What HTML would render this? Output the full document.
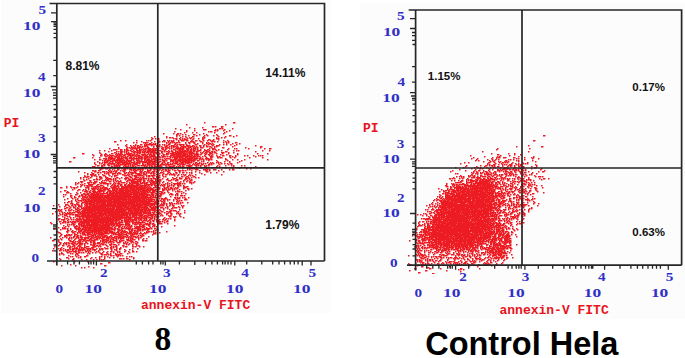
<!DOCTYPE html>
<html><head><meta charset="utf-8"><style>
html,body{margin:0;padding:0;background:#fff;width:685px;height:358px;overflow:hidden}
svg{position:absolute;left:0;top:0;display:block}
.ax{font-family:"Liberation Serif",serif;font-weight:bold;font-size:12.5px;fill:#3030c8}
.lab{font-family:"Liberation Mono",monospace;font-weight:bold;font-size:13px;fill:#e8141c}
.pc{font-family:"Liberation Sans",sans-serif;font-weight:bold;font-size:12px;fill:#111}
.pc2{font-family:"Liberation Sans",sans-serif;font-weight:bold;font-size:11.5px;fill:#111}
.big8{font-family:"Liberation Serif",serif;font-weight:bold;font-size:33.5px;fill:#000}
.bigc{font-family:"Liberation Sans",sans-serif;font-weight:bold;font-size:32.5px;fill:#000}
</style></head><body>
<svg width="685" height="358" viewBox="0 0 685 358">
<rect x="1" y="0" width="329" height="313" fill="#fcfcfc"/>
<rect x="360" y="2" width="325" height="317" fill="#fcfcfc"/>
<filter id="bl" x="0" y="0" width="1" height="1"><feGaussianBlur stdDeviation="0.5"/></filter>
<path d="M204 122.75h1.5M233 122.75h2.5M186 124.75h1.5M225 124.75h1.5M212 126.75h2.5M215 126.75h1.5M221 126.75h2.5M189 127.75h1.5M202 127.75h1.5M221 127.75h1.5M175 128.75h1.5M194 128.75h1.5M219 128.75h2.5M222 128.75h1.5M232 128.75h1.5M180 129.75h1.5M203 129.75h3.5M215 129.75h1.5M217 129.75h1.5M224 129.75h1.5M186 130.75h1.5M194 130.75h1.5M214 130.75h2.5M217 130.75h1.5M223 130.75h1.5M229 130.75h1.5M174 131.75h1.5M186 131.75h1.5M208 131.75h1.5M210 131.75h2.5M226 131.75h1.5M184 132.75h1.5M192 132.75h1.5M196 132.75h1.5M214 132.75h1.5M224 132.75h1.5M163 133.75h1.5M173 133.75h1.5M177 133.75h2.5M180 133.75h1.5M203 133.75h1.5M223 133.75h1.5M176 134.75h2.5M182 134.75h1.5M185 134.75h1.5M193 134.75h2.5M199 134.75h1.5M206 134.75h1.5M216 134.75h1.5M176 135.75h1.5M179 135.75h1.5M188 135.75h1.5M196 135.75h1.5M204 135.75h1.5M207 135.75h1.5M213 135.75h1.5M217 135.75h1.5M229 135.75h2.5M236 135.75h1.5M543 135.75h2.5M154 136.75h1.5M166 136.75h1.5M176 136.75h1.5M182 136.75h1.5M185 136.75h1.5M192 136.75h2.5M203 136.75h1.5M218 136.75h1.5M225 136.75h1.5M233 136.75h1.5M151 137.75h1.5M166 137.75h1.5M169 137.75h2.5M172 137.75h1.5M180 137.75h1.5M186 137.75h1.5M189 137.75h1.5M191 137.75h1.5M202 137.75h1.5M204 137.75h1.5M216 137.75h1.5M221 137.75h1.5M224 137.75h1.5M152 138.75h1.5M155 138.75h1.5M158 138.75h1.5M173 138.75h1.5M175 138.75h2.5M179 138.75h1.5M182 138.75h1.5M184 138.75h1.5M187 138.75h1.5M190 138.75h1.5M193 138.75h1.5M198 138.75h1.5M202 138.75h2.5M216 138.75h3.5M151 139.75h1.5M158 139.75h1.5M176 139.75h1.5M180 139.75h1.5M182 139.75h1.5M184 139.75h3.5M192 139.75h1.5M202 139.75h1.5M208 139.75h2.5M213 139.75h1.5M218 139.75h1.5M120 140.75h1.5M125 140.75h1.5M136 140.75h1.5M146 140.75h1.5M148 140.75h1.5M150 140.75h1.5M157 140.75h2.5M163 140.75h2.5M167 140.75h1.5M169 140.75h1.5M171 140.75h1.5M173 140.75h1.5M178 140.75h1.5M181 140.75h3.5M186 140.75h2.5M191 140.75h1.5M195 140.75h2.5M199 140.75h1.5M203 140.75h1.5M207 140.75h1.5M210 140.75h1.5M212 140.75h2.5M223 140.75h1.5M227 140.75h1.5M533 140.75h2.5M114 141.75h2.5M141 141.75h1.5M154 141.75h1.5M157 141.75h1.5M159 141.75h1.5M162 141.75h1.5M164 141.75h1.5M168 141.75h1.5M171 141.75h3.5M178 141.75h1.5M190 141.75h4.5M200 141.75h2.5M211 141.75h2.5M214 141.75h1.5M217 141.75h1.5M225 141.75h1.5M228 141.75h1.5M133 142.75h1.5M136 142.75h1.5M143 142.75h5.5M151 142.75h1.5M157 142.75h2.5M166 142.75h1.5M168 142.75h1.5M170 142.75h1.5M172 142.75h1.5M174 142.75h1.5M176 142.75h2.5M179 142.75h1.5M185 142.75h1.5M188 142.75h2.5M193 142.75h2.5M202 142.75h1.5M206 142.75h1.5M208 142.75h1.5M223 142.75h1.5M226 142.75h1.5M228 142.75h1.5M235 142.75h2.5M145 143.75h1.5M149 143.75h2.5M153 143.75h1.5M155 143.75h1.5M166 143.75h1.5M169 143.75h1.5M175 143.75h1.5M185 143.75h1.5M189 143.75h1.5M194 143.75h1.5M197 143.75h1.5M202 143.75h1.5M206 143.75h2.5M209 143.75h2.5M212 143.75h1.5M226 143.75h1.5M232 143.75h1.5M239 143.75h1.5M117 144.75h1.5M126 144.75h1.5M135 144.75h1.5M140 144.75h2.5M144 144.75h1.5M146 144.75h10.5M159 144.75h1.5M162 144.75h1.5M164 144.75h1.5M168 144.75h2.5M174 144.75h2.5M177 144.75h1.5M179 144.75h5.5M186 144.75h1.5M195 144.75h2.5M204 144.75h1.5M208 144.75h1.5M211 144.75h1.5M213 144.75h1.5M219 144.75h1.5M223 144.75h1.5M226 144.75h1.5M230 144.75h1.5M236 144.75h1.5M125 145.75h1.5M130 145.75h1.5M133 145.75h1.5M135 145.75h1.5M137 145.75h2.5M144 145.75h3.5M151 145.75h1.5M156 145.75h2.5M159 145.75h1.5M164 145.75h1.5M166 145.75h2.5M171 145.75h3.5M176 145.75h1.5M180 145.75h1.5M183 145.75h1.5M186 145.75h4.5M192 145.75h2.5M199 145.75h2.5M203 145.75h1.5M206 145.75h1.5M212 145.75h1.5M216 145.75h3.5M234 145.75h1.5M255 145.75h1.5M528 145.75h1.5M126 146.75h1.5M131 146.75h1.5M134 146.75h1.5M137 146.75h1.5M139 146.75h2.5M142 146.75h1.5M144 146.75h2.5M147 146.75h1.5M153 146.75h1.5M156 146.75h1.5M158 146.75h2.5M161 146.75h1.5M165 146.75h2.5M169 146.75h1.5M171 146.75h1.5M173 146.75h3.5M177 146.75h1.5M181 146.75h5.5M187 146.75h2.5M190 146.75h3.5M194 146.75h1.5M196 146.75h1.5M200 146.75h1.5M203 146.75h1.5M206 146.75h2.5M209 146.75h2.5M214 146.75h1.5M216 146.75h1.5M232 146.75h1.5M260 146.75h2.5M516 146.75h1.5M541 146.75h2.5M118 147.75h1.5M127 147.75h1.5M129 147.75h1.5M131 147.75h3.5M135 147.75h1.5M137 147.75h3.5M141 147.75h1.5M147 147.75h2.5M153 147.75h1.5M162 147.75h2.5M165 147.75h1.5M167 147.75h2.5M171 147.75h1.5M173 147.75h1.5M176 147.75h3.5M180 147.75h1.5M182 147.75h2.5M185 147.75h1.5M188 147.75h3.5M193 147.75h1.5M195 147.75h1.5M197 147.75h1.5M200 147.75h3.5M211 147.75h1.5M214 147.75h1.5M222 147.75h2.5M245 147.75h1.5M260 147.75h1.5M109 148.75h1.5M118 148.75h1.5M126 148.75h1.5M130 148.75h1.5M132 148.75h6.5M139 148.75h1.5M143 148.75h1.5M145 148.75h6.5M152 148.75h1.5M154 148.75h5.5M161 148.75h2.5M165 148.75h2.5M169 148.75h1.5M171 148.75h1.5M175 148.75h9.5M186 148.75h3.5M191 148.75h1.5M193 148.75h3.5M197 148.75h1.5M209 148.75h1.5M212 148.75h3.5M228 148.75h1.5M234 148.75h1.5M236 148.75h1.5M248 148.75h1.5M264 148.75h1.5M269 148.75h2.5M497 148.75h1.5M529 148.75h1.5M113 149.75h4.5M120 149.75h2.5M124 149.75h1.5M126 149.75h2.5M131 149.75h1.5M136 149.75h1.5M139 149.75h4.5M144 149.75h2.5M148 149.75h6.5M155 149.75h1.5M157 149.75h1.5M162 149.75h2.5M165 149.75h1.5M173 149.75h2.5M177 149.75h1.5M179 149.75h5.5M186 149.75h3.5M190 149.75h2.5M193 149.75h1.5M195 149.75h1.5M197 149.75h1.5M200 149.75h1.5M204 149.75h1.5M207 149.75h2.5M212 149.75h2.5M215 149.75h1.5M218 149.75h1.5M227 149.75h1.5M496 149.75h1.5M99 150.75h1.5M104 150.75h1.5M111 150.75h1.5M120 150.75h2.5M124 150.75h1.5M126 150.75h3.5M130 150.75h1.5M133 150.75h1.5M136 150.75h5.5M143 150.75h1.5M145 150.75h1.5M147 150.75h4.5M152 150.75h9.5M164 150.75h1.5M168 150.75h1.5M171 150.75h1.5M175 150.75h1.5M178 150.75h3.5M182 150.75h1.5M184 150.75h2.5M187 150.75h2.5M190 150.75h2.5M193 150.75h2.5M197 150.75h4.5M204 150.75h3.5M209 150.75h1.5M216 150.75h1.5M221 150.75h1.5M233 150.75h1.5M236 150.75h1.5M238 150.75h1.5M262 150.75h1.5M269 150.75h1.5M108 151.75h1.5M116 151.75h1.5M118 151.75h1.5M120 151.75h3.5M124 151.75h1.5M126 151.75h1.5M131 151.75h2.5M134 151.75h2.5M137 151.75h1.5M139 151.75h2.5M142 151.75h1.5M144 151.75h2.5M147 151.75h8.5M161 151.75h2.5M164 151.75h1.5M166 151.75h2.5M169 151.75h1.5M171 151.75h2.5M175 151.75h3.5M179 151.75h9.5M189 151.75h3.5M193 151.75h2.5M196 151.75h2.5M203 151.75h1.5M206 151.75h3.5M211 151.75h2.5M214 151.75h1.5M225 151.75h2.5M255 151.75h1.5M482 151.75h1.5M528 151.75h1.5M99 152.75h1.5M114 152.75h2.5M120 152.75h2.5M124 152.75h1.5M126 152.75h1.5M128 152.75h1.5M133 152.75h2.5M136 152.75h5.5M142 152.75h3.5M146 152.75h3.5M150 152.75h7.5M158 152.75h1.5M161 152.75h1.5M168 152.75h1.5M172 152.75h4.5M177 152.75h8.5M186 152.75h1.5M188 152.75h5.5M196 152.75h1.5M200 152.75h1.5M202 152.75h1.5M205 152.75h2.5M209 152.75h2.5M212 152.75h1.5M214 152.75h2.5M221 152.75h3.5M228 152.75h1.5M233 152.75h1.5M82 153.75h2.5M100 153.75h1.5M105 153.75h1.5M111 153.75h2.5M116 153.75h1.5M118 153.75h1.5M120 153.75h2.5M126 153.75h6.5M134 153.75h1.5M137 153.75h1.5M139 153.75h1.5M144 153.75h1.5M148 153.75h1.5M150 153.75h1.5M153 153.75h2.5M156 153.75h2.5M159 153.75h1.5M162 153.75h1.5M166 153.75h3.5M170 153.75h4.5M175 153.75h7.5M183 153.75h3.5M187 153.75h1.5M189 153.75h6.5M196 153.75h2.5M201 153.75h1.5M204 153.75h1.5M206 153.75h1.5M209 153.75h3.5M216 153.75h1.5M222 153.75h1.5M228 153.75h1.5M237 153.75h1.5M257 153.75h1.5M267 153.75h1.5M491 153.75h1.5M508 153.75h1.5M514 153.75h1.5M92 154.75h1.5M101 154.75h1.5M104 154.75h3.5M109 154.75h1.5M115 154.75h1.5M117 154.75h6.5M124 154.75h2.5M127 154.75h4.5M132 154.75h3.5M136 154.75h2.5M141 154.75h5.5M147 154.75h1.5M149 154.75h3.5M153 154.75h2.5M157 154.75h2.5M163 154.75h2.5M166 154.75h2.5M171 154.75h17.5M189 154.75h3.5M194 154.75h5.5M200 154.75h1.5M205 154.75h1.5M208 154.75h2.5M212 154.75h1.5M220 154.75h1.5M226 154.75h1.5M237 154.75h1.5M497 154.75h2.5M514 154.75h1.5M520 154.75h1.5M93 155.75h1.5M100 155.75h2.5M104 155.75h1.5M107 155.75h2.5M110 155.75h4.5M116 155.75h2.5M119 155.75h2.5M123 155.75h2.5M128 155.75h6.5M135 155.75h1.5M137 155.75h3.5M142 155.75h2.5M145 155.75h2.5M149 155.75h1.5M151 155.75h4.5M158 155.75h1.5M161 155.75h1.5M163 155.75h1.5M170 155.75h5.5M176 155.75h5.5M182 155.75h4.5M187 155.75h3.5M191 155.75h2.5M194 155.75h1.5M196 155.75h2.5M204 155.75h1.5M209 155.75h1.5M211 155.75h1.5M216 155.75h1.5M222 155.75h2.5M229 155.75h2.5M235 155.75h1.5M244 155.75h1.5M247 155.75h1.5M253 155.75h1.5M258 155.75h1.5M260 155.75h1.5M262 155.75h1.5M470 155.75h1.5M500 155.75h1.5M509 155.75h1.5M105 156.75h2.5M109 156.75h1.5M111 156.75h1.5M114 156.75h3.5M118 156.75h2.5M121 156.75h2.5M125 156.75h1.5M127 156.75h1.5M130 156.75h2.5M134 156.75h1.5M136 156.75h1.5M138 156.75h4.5M144 156.75h5.5M150 156.75h6.5M158 156.75h2.5M162 156.75h4.5M167 156.75h1.5M169 156.75h2.5M173 156.75h19.5M193 156.75h3.5M197 156.75h3.5M202 156.75h1.5M205 156.75h1.5M210 156.75h3.5M217 156.75h1.5M219 156.75h1.5M229 156.75h1.5M232 156.75h1.5M235 156.75h1.5M255 156.75h1.5M484 156.75h1.5M497 156.75h1.5M499 156.75h1.5M518 156.75h1.5M533 156.75h1.5M73 157.75h2.5M92 157.75h1.5M99 157.75h1.5M108 157.75h5.5M115 157.75h1.5M117 157.75h3.5M121 157.75h1.5M123 157.75h4.5M129 157.75h3.5M133 157.75h1.5M136 157.75h1.5M138 157.75h2.5M141 157.75h2.5M144 157.75h4.5M149 157.75h2.5M153 157.75h1.5M155 157.75h2.5M159 157.75h2.5M162 157.75h1.5M170 157.75h1.5M172 157.75h1.5M174 157.75h4.5M179 157.75h4.5M185 157.75h3.5M189 157.75h6.5M196 157.75h1.5M200 157.75h1.5M206 157.75h1.5M210 157.75h2.5M217 157.75h2.5M220 157.75h2.5M230 157.75h1.5M234 157.75h1.5M249 157.75h1.5M262 157.75h1.5M473 157.75h1.5M492 157.75h1.5M496 157.75h1.5M498 157.75h2.5M503 157.75h3.5M513 157.75h2.5M524 157.75h1.5M531 157.75h1.5M533 157.75h1.5M103 158.75h4.5M108 158.75h7.5M117 158.75h6.5M125 158.75h3.5M129 158.75h14.5M144 158.75h3.5M148 158.75h1.5M151 158.75h1.5M153 158.75h5.5M164 158.75h1.5M166 158.75h4.5M174 158.75h4.5M179 158.75h2.5M182 158.75h4.5M187 158.75h6.5M194 158.75h4.5M199 158.75h2.5M202 158.75h1.5M205 158.75h4.5M210 158.75h1.5M225 158.75h1.5M471 158.75h1.5M477 158.75h1.5M491 158.75h1.5M496 158.75h1.5M516 158.75h1.5M518 158.75h1.5M532 158.75h1.5M538 158.75h1.5M94 159.75h1.5M99 159.75h2.5M105 159.75h2.5M108 159.75h1.5M110 159.75h2.5M113 159.75h2.5M116 159.75h6.5M123 159.75h1.5M126 159.75h2.5M131 159.75h1.5M133 159.75h1.5M136 159.75h1.5M138 159.75h1.5M141 159.75h1.5M144 159.75h2.5M147 159.75h3.5M151 159.75h5.5M157 159.75h4.5M162 159.75h1.5M165 159.75h1.5M170 159.75h2.5M173 159.75h4.5M178 159.75h14.5M193 159.75h3.5M199 159.75h1.5M201 159.75h1.5M203 159.75h1.5M206 159.75h1.5M208 159.75h2.5M211 159.75h1.5M225 159.75h2.5M232 159.75h1.5M237 159.75h1.5M244 159.75h1.5M267 159.75h1.5M476 159.75h1.5M487 159.75h1.5M492 159.75h1.5M495 159.75h1.5M498 159.75h1.5M508 159.75h1.5M510 159.75h1.5M513 159.75h1.5M524 159.75h1.5M102 160.75h1.5M104 160.75h2.5M107 160.75h3.5M112 160.75h13.5M126 160.75h6.5M133 160.75h1.5M136 160.75h4.5M141 160.75h1.5M144 160.75h1.5M146 160.75h6.5M154 160.75h3.5M162 160.75h3.5M166 160.75h1.5M170 160.75h4.5M175 160.75h1.5M177 160.75h18.5M197 160.75h2.5M203 160.75h1.5M208 160.75h1.5M216 160.75h1.5M227 160.75h1.5M241 160.75h1.5M475 160.75h1.5M478 160.75h1.5M489 160.75h1.5M492 160.75h1.5M494 160.75h1.5M505 160.75h2.5M516 160.75h1.5M518 160.75h1.5M532 160.75h1.5M69 161.75h2.5M97 161.75h1.5M104 161.75h1.5M106 161.75h2.5M110 161.75h3.5M115 161.75h1.5M117 161.75h1.5M119 161.75h4.5M124 161.75h3.5M128 161.75h3.5M134 161.75h1.5M137 161.75h1.5M139 161.75h8.5M148 161.75h8.5M157 161.75h1.5M159 161.75h2.5M163 161.75h2.5M170 161.75h1.5M172 161.75h2.5M175 161.75h3.5M179 161.75h2.5M182 161.75h8.5M191 161.75h1.5M193 161.75h1.5M201 161.75h1.5M203 161.75h1.5M217 161.75h1.5M224 161.75h1.5M229 161.75h1.5M239 161.75h1.5M483 161.75h1.5M490 161.75h1.5M493 161.75h1.5M498 161.75h1.5M500 161.75h1.5M504 161.75h1.5M506 161.75h1.5M508 161.75h1.5M518 161.75h1.5M535 161.75h1.5M94 162.75h1.5M99 162.75h1.5M102 162.75h1.5M104 162.75h4.5M109 162.75h1.5M112 162.75h1.5M115 162.75h13.5M129 162.75h1.5M131 162.75h4.5M136 162.75h4.5M142 162.75h9.5M152 162.75h5.5M158 162.75h1.5M162 162.75h1.5M164 162.75h1.5M167 162.75h2.5M173 162.75h1.5M175 162.75h3.5M180 162.75h4.5M185 162.75h7.5M195 162.75h2.5M199 162.75h1.5M207 162.75h1.5M210 162.75h1.5M212 162.75h1.5M216 162.75h1.5M218 162.75h1.5M220 162.75h1.5M229 162.75h1.5M237 162.75h1.5M250 162.75h1.5M464 162.75h1.5M468 162.75h1.5M488 162.75h2.5M494 162.75h1.5M499 162.75h1.5M502 162.75h2.5M505 162.75h1.5M507 162.75h1.5M512 162.75h1.5M522 162.75h1.5M527 162.75h1.5M94 163.75h1.5M99 163.75h1.5M101 163.75h1.5M104 163.75h1.5M108 163.75h7.5M117 163.75h3.5M122 163.75h3.5M126 163.75h5.5M133 163.75h5.5M139 163.75h1.5M142 163.75h1.5M147 163.75h3.5M151 163.75h4.5M158 163.75h1.5M161 163.75h2.5M165 163.75h1.5M167 163.75h1.5M170 163.75h1.5M172 163.75h1.5M174 163.75h4.5M179 163.75h1.5M181 163.75h3.5M185 163.75h1.5M187 163.75h2.5M193 163.75h1.5M195 163.75h1.5M197 163.75h3.5M201 163.75h1.5M203 163.75h1.5M205 163.75h1.5M209 163.75h1.5M211 163.75h1.5M213 163.75h1.5M218 163.75h1.5M221 163.75h1.5M224 163.75h1.5M227 163.75h1.5M230 163.75h2.5M460 163.75h1.5M487 163.75h1.5M495 163.75h1.5M501 163.75h1.5M511 163.75h1.5M515 163.75h1.5M518 163.75h1.5M523 163.75h1.5M525 163.75h1.5M527 163.75h1.5M95 164.75h1.5M103 164.75h2.5M107 164.75h2.5M111 164.75h1.5M113 164.75h2.5M116 164.75h1.5M118 164.75h1.5M120 164.75h9.5M130 164.75h1.5M132 164.75h1.5M134 164.75h3.5M142 164.75h2.5M145 164.75h1.5M147 164.75h4.5M152 164.75h5.5M158 164.75h1.5M160 164.75h5.5M166 164.75h7.5M177 164.75h2.5M180 164.75h1.5M182 164.75h3.5M189 164.75h1.5M192 164.75h1.5M194 164.75h1.5M196 164.75h2.5M201 164.75h2.5M208 164.75h2.5M211 164.75h1.5M219 164.75h1.5M228 164.75h1.5M231 164.75h1.5M487 164.75h1.5M489 164.75h1.5M493 164.75h2.5M498 164.75h1.5M502 164.75h1.5M504 164.75h1.5M506 164.75h1.5M509 164.75h3.5M516 164.75h1.5M518 164.75h1.5M520 164.75h1.5M535 164.75h1.5M97 165.75h2.5M101 165.75h2.5M104 165.75h1.5M108 165.75h2.5M114 165.75h6.5M124 165.75h2.5M128 165.75h1.5M130 165.75h1.5M132 165.75h2.5M137 165.75h3.5M141 165.75h5.5M147 165.75h1.5M149 165.75h1.5M151 165.75h1.5M154 165.75h1.5M157 165.75h4.5M165 165.75h1.5M168 165.75h1.5M173 165.75h2.5M179 165.75h1.5M182 165.75h1.5M186 165.75h6.5M195 165.75h2.5M198 165.75h1.5M200 165.75h1.5M204 165.75h1.5M206 165.75h1.5M208 165.75h1.5M217 165.75h1.5M225 165.75h1.5M231 165.75h1.5M233 165.75h1.5M241 165.75h1.5M244 165.75h1.5M466 165.75h1.5M480 165.75h1.5M485 165.75h2.5M489 165.75h1.5M491 165.75h2.5M494 165.75h1.5M502 165.75h1.5M508 165.75h1.5M510 165.75h2.5M514 165.75h1.5M518 165.75h1.5M520 165.75h1.5M536 165.75h1.5M92 166.75h3.5M101 166.75h2.5M111 166.75h2.5M114 166.75h1.5M116 166.75h2.5M119 166.75h1.5M123 166.75h1.5M125 166.75h4.5M130 166.75h1.5M132 166.75h2.5M135 166.75h1.5M144 166.75h1.5M146 166.75h1.5M149 166.75h1.5M151 166.75h2.5M154 166.75h8.5M166 166.75h1.5M169 166.75h5.5M176 166.75h1.5M178 166.75h1.5M180 166.75h1.5M182 166.75h2.5M188 166.75h3.5M196 166.75h1.5M200 166.75h1.5M204 166.75h2.5M216 166.75h1.5M219 166.75h1.5M233 166.75h1.5M255 166.75h1.5M465 166.75h1.5M476 166.75h1.5M484 166.75h1.5M492 166.75h1.5M494 166.75h1.5M497 166.75h2.5M502 166.75h1.5M507 166.75h1.5M510 166.75h1.5M514 166.75h1.5M518 166.75h2.5M523 166.75h1.5M531 166.75h1.5M536 166.75h1.5M95 167.75h1.5M98 167.75h1.5M100 167.75h2.5M104 167.75h1.5M106 167.75h2.5M109 167.75h3.5M113 167.75h1.5M115 167.75h1.5M117 167.75h1.5M123 167.75h1.5M126 167.75h1.5M129 167.75h4.5M134 167.75h3.5M140 167.75h2.5M145 167.75h3.5M149 167.75h3.5M155 167.75h1.5M157 167.75h1.5M159 167.75h3.5M167 167.75h1.5M171 167.75h1.5M175 167.75h2.5M191 167.75h1.5M193 167.75h1.5M197 167.75h1.5M200 167.75h3.5M205 167.75h2.5M208 167.75h1.5M212 167.75h1.5M225 167.75h1.5M238 167.75h2.5M455 167.75h1.5M463 167.75h1.5M474 167.75h1.5M477 167.75h1.5M480 167.75h1.5M486 167.75h1.5M490 167.75h1.5M493 167.75h1.5M495 167.75h1.5M500 167.75h1.5M504 167.75h1.5M506 167.75h1.5M514 167.75h2.5M522 167.75h2.5M534 167.75h2.5M99 168.75h1.5M101 168.75h2.5M105 168.75h3.5M114 168.75h1.5M117 168.75h2.5M121 168.75h1.5M124 168.75h2.5M127 168.75h1.5M130 168.75h1.5M133 168.75h2.5M138 168.75h1.5M140 168.75h4.5M145 168.75h1.5M149 168.75h3.5M154 168.75h2.5M157 168.75h1.5M160 168.75h1.5M168 168.75h1.5M170 168.75h1.5M174 168.75h1.5M182 168.75h1.5M187 168.75h1.5M189 168.75h6.5M196 168.75h1.5M206 168.75h1.5M232 168.75h1.5M246 168.75h1.5M250 168.75h1.5M471 168.75h1.5M479 168.75h2.5M482 168.75h1.5M488 168.75h1.5M503 168.75h3.5M507 168.75h2.5M513 168.75h1.5M518 168.75h1.5M520 168.75h1.5M523 168.75h1.5M531 168.75h1.5M541 168.75h1.5M100 169.75h1.5M109 169.75h1.5M112 169.75h1.5M117 169.75h2.5M123 169.75h3.5M129 169.75h3.5M133 169.75h3.5M137 169.75h4.5M142 169.75h1.5M147 169.75h1.5M150 169.75h1.5M153 169.75h2.5M156 169.75h1.5M159 169.75h1.5M162 169.75h2.5M165 169.75h2.5M168 169.75h1.5M172 169.75h1.5M177 169.75h1.5M187 169.75h1.5M189 169.75h1.5M195 169.75h3.5M203 169.75h3.5M207 169.75h1.5M209 169.75h1.5M213 169.75h3.5M221 169.75h1.5M229 169.75h1.5M232 169.75h2.5M459 169.75h1.5M475 169.75h1.5M489 169.75h1.5M492 169.75h1.5M497 169.75h2.5M500 169.75h1.5M502 169.75h3.5M506 169.75h1.5M509 169.75h2.5M512 169.75h2.5M515 169.75h2.5M518 169.75h1.5M521 169.75h1.5M525 169.75h1.5M540 169.75h1.5M92 170.75h2.5M95 170.75h1.5M98 170.75h2.5M108 170.75h1.5M110 170.75h1.5M114 170.75h1.5M116 170.75h1.5M120 170.75h1.5M122 170.75h1.5M124 170.75h1.5M131 170.75h1.5M133 170.75h1.5M135 170.75h2.5M140 170.75h1.5M142 170.75h1.5M147 170.75h4.5M154 170.75h1.5M157 170.75h2.5M161 170.75h1.5M165 170.75h2.5M168 170.75h2.5M174 170.75h2.5M178 170.75h3.5M182 170.75h2.5M185 170.75h1.5M191 170.75h1.5M199 170.75h1.5M205 170.75h2.5M209 170.75h1.5M218 170.75h1.5M452 170.75h1.5M465 170.75h1.5M474 170.75h1.5M478 170.75h2.5M483 170.75h1.5M488 170.75h1.5M497 170.75h3.5M501 170.75h1.5M505 170.75h1.5M514 170.75h3.5M518 170.75h1.5M522 170.75h2.5M525 170.75h1.5M544 170.75h1.5M78 171.75h1.5M94 171.75h2.5M102 171.75h3.5M106 171.75h1.5M109 171.75h1.5M111 171.75h1.5M113 171.75h1.5M115 171.75h2.5M123 171.75h2.5M129 171.75h1.5M134 171.75h2.5M139 171.75h3.5M144 171.75h2.5M147 171.75h2.5M152 171.75h3.5M156 171.75h1.5M163 171.75h1.5M167 171.75h2.5M179 171.75h1.5M195 171.75h1.5M206 171.75h2.5M223 171.75h1.5M450 171.75h1.5M473 171.75h1.5M476 171.75h1.5M483 171.75h1.5M485 171.75h2.5M489 171.75h1.5M494 171.75h2.5M499 171.75h1.5M503 171.75h1.5M505 171.75h3.5M510 171.75h2.5M514 171.75h1.5M519 171.75h2.5M528 171.75h1.5M538 171.75h1.5M542 171.75h2.5M84 172.75h1.5M91 172.75h1.5M97 172.75h2.5M100 172.75h1.5M104 172.75h1.5M107 172.75h2.5M110 172.75h2.5M115 172.75h1.5M118 172.75h2.5M124 172.75h1.5M126 172.75h1.5M128 172.75h1.5M130 172.75h6.5M140 172.75h2.5M143 172.75h1.5M146 172.75h1.5M148 172.75h2.5M151 172.75h1.5M153 172.75h1.5M156 172.75h2.5M160 172.75h3.5M168 172.75h2.5M175 172.75h2.5M179 172.75h1.5M182 172.75h2.5M186 172.75h1.5M189 172.75h1.5M191 172.75h1.5M199 172.75h1.5M210 172.75h1.5M216 172.75h1.5M471 172.75h1.5M473 172.75h1.5M476 172.75h2.5M480 172.75h1.5M482 172.75h1.5M486 172.75h2.5M490 172.75h1.5M493 172.75h1.5M495 172.75h1.5M505 172.75h1.5M508 172.75h2.5M511 172.75h1.5M515 172.75h1.5M520 172.75h1.5M522 172.75h1.5M524 172.75h2.5M532 172.75h1.5M87 173.75h1.5M92 173.75h2.5M104 173.75h1.5M106 173.75h1.5M108 173.75h1.5M112 173.75h4.5M117 173.75h1.5M119 173.75h2.5M124 173.75h2.5M128 173.75h1.5M131 173.75h2.5M135 173.75h5.5M141 173.75h1.5M143 173.75h2.5M146 173.75h1.5M150 173.75h2.5M153 173.75h2.5M159 173.75h1.5M163 173.75h1.5M167 173.75h1.5M170 173.75h1.5M173 173.75h1.5M176 173.75h1.5M191 173.75h1.5M201 173.75h1.5M455 173.75h1.5M457 173.75h1.5M472 173.75h1.5M475 173.75h1.5M477 173.75h1.5M480 173.75h2.5M484 173.75h1.5M486 173.75h3.5M491 173.75h1.5M493 173.75h1.5M495 173.75h1.5M504 173.75h1.5M506 173.75h1.5M509 173.75h2.5M512 173.75h1.5M520 173.75h1.5M522 173.75h1.5M531 173.75h1.5M536 173.75h1.5M87 174.75h1.5M90 174.75h4.5M95 174.75h1.5M98 174.75h1.5M102 174.75h1.5M108 174.75h1.5M112 174.75h1.5M117 174.75h1.5M122 174.75h2.5M127 174.75h1.5M129 174.75h1.5M131 174.75h1.5M137 174.75h4.5M143 174.75h3.5M153 174.75h1.5M156 174.75h2.5M162 174.75h1.5M165 174.75h2.5M169 174.75h1.5M171 174.75h4.5M178 174.75h1.5M181 174.75h1.5M183 174.75h1.5M185 174.75h1.5M189 174.75h1.5M195 174.75h1.5M204 174.75h1.5M221 174.75h1.5M471 174.75h1.5M477 174.75h1.5M484 174.75h2.5M487 174.75h4.5M494 174.75h3.5M499 174.75h1.5M501 174.75h2.5M505 174.75h2.5M509 174.75h1.5M511 174.75h1.5M513 174.75h1.5M515 174.75h2.5M523 174.75h1.5M525 174.75h1.5M529 174.75h1.5M531 174.75h1.5M84 175.75h1.5M91 175.75h2.5M94 175.75h2.5M103 175.75h2.5M109 175.75h1.5M114 175.75h3.5M124 175.75h3.5M128 175.75h1.5M132 175.75h1.5M134 175.75h3.5M138 175.75h5.5M146 175.75h1.5M148 175.75h2.5M151 175.75h4.5M157 175.75h1.5M159 175.75h1.5M162 175.75h1.5M174 175.75h1.5M177 175.75h1.5M184 175.75h1.5M188 175.75h1.5M190 175.75h1.5M192 175.75h1.5M460 175.75h1.5M468 175.75h1.5M470 175.75h1.5M472 175.75h1.5M474 175.75h1.5M480 175.75h2.5M487 175.75h1.5M491 175.75h1.5M493 175.75h1.5M497 175.75h1.5M499 175.75h1.5M501 175.75h1.5M506 175.75h1.5M508 175.75h1.5M510 175.75h1.5M513 175.75h1.5M522 175.75h1.5M526 175.75h1.5M534 175.75h1.5M84 176.75h2.5M87 176.75h2.5M91 176.75h1.5M96 176.75h1.5M99 176.75h2.5M105 176.75h1.5M111 176.75h1.5M114 176.75h1.5M129 176.75h2.5M134 176.75h3.5M143 176.75h1.5M146 176.75h1.5M148 176.75h2.5M152 176.75h1.5M156 176.75h3.5M163 176.75h1.5M165 176.75h1.5M181 176.75h2.5M186 176.75h2.5M193 176.75h2.5M456 176.75h1.5M459 176.75h1.5M461 176.75h1.5M463 176.75h1.5M468 176.75h2.5M473 176.75h2.5M477 176.75h1.5M480 176.75h1.5M482 176.75h4.5M488 176.75h2.5M492 176.75h1.5M496 176.75h1.5M500 176.75h1.5M505 176.75h1.5M515 176.75h1.5M518 176.75h1.5M524 176.75h1.5M535 176.75h1.5M538 176.75h3.5M542 176.75h1.5M80 177.75h1.5M83 177.75h1.5M86 177.75h1.5M90 177.75h1.5M99 177.75h3.5M105 177.75h3.5M116 177.75h2.5M121 177.75h1.5M125 177.75h3.5M130 177.75h2.5M135 177.75h4.5M140 177.75h1.5M142 177.75h2.5M153 177.75h1.5M156 177.75h1.5M158 177.75h2.5M172 177.75h1.5M176 177.75h1.5M179 177.75h1.5M185 177.75h1.5M188 177.75h1.5M191 177.75h1.5M195 177.75h1.5M198 177.75h1.5M453 177.75h1.5M461 177.75h1.5M463 177.75h1.5M471 177.75h4.5M476 177.75h4.5M487 177.75h1.5M490 177.75h1.5M494 177.75h2.5M501 177.75h2.5M504 177.75h1.5M517 177.75h3.5M528 177.75h1.5M80 178.75h1.5M88 178.75h1.5M96 178.75h1.5M100 178.75h2.5M106 178.75h5.5M113 178.75h1.5M115 178.75h1.5M119 178.75h1.5M124 178.75h3.5M128 178.75h1.5M132 178.75h1.5M134 178.75h2.5M139 178.75h1.5M141 178.75h1.5M143 178.75h4.5M148 178.75h1.5M150 178.75h2.5M153 178.75h3.5M157 178.75h1.5M162 178.75h1.5M167 178.75h1.5M173 178.75h3.5M179 178.75h3.5M185 178.75h3.5M189 178.75h1.5M449 178.75h2.5M452 178.75h1.5M454 178.75h1.5M459 178.75h1.5M462 178.75h1.5M467 178.75h1.5M477 178.75h4.5M483 178.75h2.5M487 178.75h2.5M490 178.75h3.5M495 178.75h1.5M497 178.75h1.5M499 178.75h1.5M501 178.75h1.5M503 178.75h1.5M505 178.75h1.5M507 178.75h1.5M509 178.75h1.5M512 178.75h1.5M514 178.75h1.5M517 178.75h1.5M520 178.75h1.5M522 178.75h2.5M528 178.75h1.5M539 178.75h1.5M543 178.75h2.5M548 178.75h1.5M83 179.75h1.5M86 179.75h1.5M93 179.75h2.5M96 179.75h2.5M99 179.75h1.5M105 179.75h1.5M107 179.75h2.5M110 179.75h2.5M113 179.75h1.5M115 179.75h1.5M125 179.75h1.5M128 179.75h3.5M132 179.75h10.5M143 179.75h1.5M148 179.75h1.5M151 179.75h1.5M155 179.75h3.5M159 179.75h2.5M166 179.75h2.5M171 179.75h1.5M173 179.75h1.5M176 179.75h2.5M184 179.75h2.5M189 179.75h1.5M191 179.75h1.5M466 179.75h1.5M468 179.75h1.5M470 179.75h2.5M475 179.75h3.5M480 179.75h7.5M488 179.75h7.5M496 179.75h1.5M501 179.75h1.5M503 179.75h1.5M507 179.75h2.5M514 179.75h1.5M518 179.75h1.5M521 179.75h2.5M526 179.75h1.5M528 179.75h3.5M541 179.75h1.5M84 180.75h1.5M89 180.75h2.5M102 180.75h1.5M104 180.75h1.5M106 180.75h1.5M108 180.75h1.5M113 180.75h1.5M115 180.75h1.5M117 180.75h1.5M120 180.75h1.5M127 180.75h1.5M129 180.75h5.5M137 180.75h1.5M139 180.75h2.5M143 180.75h2.5M147 180.75h2.5M150 180.75h3.5M155 180.75h1.5M158 180.75h3.5M168 180.75h3.5M175 180.75h3.5M183 180.75h1.5M187 180.75h1.5M190 180.75h2.5M451 180.75h1.5M454 180.75h1.5M458 180.75h1.5M461 180.75h2.5M466 180.75h1.5M468 180.75h1.5M470 180.75h5.5M476 180.75h2.5M479 180.75h2.5M482 180.75h2.5M485 180.75h5.5M494 180.75h1.5M500 180.75h1.5M507 180.75h2.5M512 180.75h1.5M520 180.75h1.5M523 180.75h2.5M526 180.75h1.5M530 180.75h1.5M533 180.75h1.5M80 181.75h3.5M90 181.75h1.5M94 181.75h3.5M101 181.75h1.5M109 181.75h2.5M113 181.75h1.5M116 181.75h1.5M118 181.75h3.5M126 181.75h2.5M131 181.75h10.5M143 181.75h2.5M149 181.75h1.5M151 181.75h7.5M159 181.75h1.5M163 181.75h1.5M180 181.75h1.5M183 181.75h1.5M186 181.75h1.5M189 181.75h1.5M194 181.75h1.5M460 181.75h2.5M466 181.75h1.5M470 181.75h4.5M475 181.75h2.5M479 181.75h10.5M490 181.75h1.5M492 181.75h2.5M497 181.75h2.5M502 181.75h1.5M510 181.75h1.5M513 181.75h3.5M517 181.75h1.5M519 181.75h1.5M522 181.75h1.5M524 181.75h2.5M75 182.75h1.5M78 182.75h1.5M81 182.75h1.5M87 182.75h3.5M91 182.75h1.5M93 182.75h3.5M99 182.75h1.5M101 182.75h5.5M114 182.75h1.5M118 182.75h1.5M121 182.75h4.5M129 182.75h1.5M131 182.75h7.5M140 182.75h1.5M142 182.75h3.5M146 182.75h2.5M150 182.75h1.5M152 182.75h3.5M156 182.75h2.5M159 182.75h1.5M162 182.75h1.5M167 182.75h1.5M171 182.75h1.5M177 182.75h1.5M179 182.75h1.5M189 182.75h3.5M193 182.75h1.5M455 182.75h6.5M466 182.75h6.5M475 182.75h13.5M489 182.75h1.5M491 182.75h2.5M495 182.75h2.5M498 182.75h2.5M502 182.75h1.5M504 182.75h1.5M512 182.75h1.5M518 182.75h1.5M526 182.75h1.5M528 182.75h1.5M531 182.75h1.5M534 182.75h1.5M75 183.75h1.5M77 183.75h1.5M84 183.75h1.5M88 183.75h1.5M93 183.75h2.5M100 183.75h2.5M103 183.75h6.5M110 183.75h1.5M113 183.75h1.5M115 183.75h1.5M117 183.75h3.5M126 183.75h1.5M129 183.75h2.5M132 183.75h7.5M140 183.75h3.5M144 183.75h3.5M150 183.75h2.5M153 183.75h4.5M159 183.75h1.5M165 183.75h1.5M167 183.75h1.5M169 183.75h1.5M173 183.75h8.5M182 183.75h1.5M184 183.75h1.5M191 183.75h1.5M446 183.75h1.5M451 183.75h1.5M453 183.75h1.5M462 183.75h2.5M466 183.75h1.5M471 183.75h1.5M473 183.75h17.5M491 183.75h2.5M495 183.75h2.5M499 183.75h1.5M502 183.75h1.5M504 183.75h1.5M506 183.75h1.5M510 183.75h2.5M514 183.75h1.5M522 183.75h3.5M529 183.75h1.5M75 184.75h1.5M80 184.75h1.5M82 184.75h1.5M88 184.75h5.5M97 184.75h2.5M107 184.75h1.5M112 184.75h1.5M114 184.75h1.5M118 184.75h1.5M120 184.75h2.5M124 184.75h2.5M128 184.75h2.5M131 184.75h2.5M136 184.75h4.5M144 184.75h1.5M146 184.75h7.5M154 184.75h1.5M157 184.75h2.5M161 184.75h1.5M163 184.75h2.5M167 184.75h1.5M171 184.75h1.5M174 184.75h1.5M177 184.75h3.5M446 184.75h1.5M452 184.75h3.5M456 184.75h2.5M459 184.75h7.5M467 184.75h1.5M470 184.75h2.5M473 184.75h2.5M477 184.75h15.5M493 184.75h1.5M495 184.75h1.5M497 184.75h1.5M500 184.75h1.5M503 184.75h1.5M508 184.75h1.5M512 184.75h1.5M517 184.75h1.5M521 184.75h2.5M524 184.75h2.5M528 184.75h1.5M530 184.75h1.5M532 184.75h1.5M534 184.75h1.5M81 185.75h1.5M84 185.75h1.5M86 185.75h2.5M89 185.75h3.5M96 185.75h1.5M100 185.75h3.5M107 185.75h1.5M111 185.75h2.5M114 185.75h2.5M117 185.75h1.5M120 185.75h2.5M124 185.75h2.5M127 185.75h12.5M140 185.75h7.5M148 185.75h1.5M151 185.75h1.5M154 185.75h3.5M158 185.75h1.5M160 185.75h1.5M162 185.75h1.5M164 185.75h1.5M167 185.75h1.5M169 185.75h1.5M171 185.75h1.5M173 185.75h1.5M177 185.75h2.5M180 185.75h1.5M183 185.75h1.5M445 185.75h2.5M452 185.75h1.5M454 185.75h1.5M456 185.75h1.5M458 185.75h1.5M464 185.75h17.5M482 185.75h13.5M496 185.75h1.5M503 185.75h3.5M508 185.75h1.5M510 185.75h1.5M512 185.75h1.5M521 185.75h2.5M528 185.75h3.5M536 185.75h1.5M541 185.75h1.5M66 186.75h1.5M70 186.75h1.5M77 186.75h1.5M80 186.75h1.5M87 186.75h2.5M91 186.75h2.5M94 186.75h6.5M103 186.75h1.5M110 186.75h1.5M113 186.75h6.5M121 186.75h3.5M125 186.75h13.5M139 186.75h4.5M144 186.75h2.5M147 186.75h1.5M149 186.75h1.5M155 186.75h1.5M163 186.75h1.5M167 186.75h2.5M173 186.75h1.5M178 186.75h1.5M183 186.75h2.5M186 186.75h2.5M446 186.75h2.5M450 186.75h1.5M453 186.75h1.5M456 186.75h5.5M462 186.75h1.5M464 186.75h3.5M468 186.75h11.5M480 186.75h13.5M494 186.75h4.5M500 186.75h3.5M506 186.75h2.5M510 186.75h3.5M515 186.75h1.5M520 186.75h1.5M523 186.75h1.5M527 186.75h1.5M531 186.75h1.5M60 187.75h2.5M66 187.75h1.5M71 187.75h1.5M73 187.75h2.5M76 187.75h1.5M85 187.75h4.5M93 187.75h1.5M95 187.75h1.5M97 187.75h1.5M100 187.75h1.5M102 187.75h5.5M111 187.75h5.5M118 187.75h1.5M121 187.75h26.5M148 187.75h1.5M150 187.75h1.5M153 187.75h7.5M164 187.75h1.5M166 187.75h2.5M170 187.75h2.5M175 187.75h1.5M177 187.75h1.5M183 187.75h3.5M450 187.75h2.5M454 187.75h10.5M465 187.75h2.5M468 187.75h1.5M470 187.75h1.5M472 187.75h19.5M492 187.75h2.5M495 187.75h2.5M498 187.75h2.5M505 187.75h1.5M512 187.75h1.5M514 187.75h1.5M516 187.75h1.5M520 187.75h1.5M528 187.75h1.5M534 187.75h2.5M542 187.75h1.5M74 188.75h1.5M88 188.75h1.5M91 188.75h6.5M98 188.75h1.5M100 188.75h3.5M104 188.75h4.5M109 188.75h1.5M112 188.75h6.5M119 188.75h9.5M129 188.75h6.5M136 188.75h10.5M147 188.75h6.5M158 188.75h2.5M162 188.75h1.5M164 188.75h2.5M168 188.75h1.5M170 188.75h3.5M174 188.75h1.5M176 188.75h2.5M183 188.75h1.5M187 188.75h2.5M191 188.75h1.5M438 188.75h1.5M447 188.75h1.5M450 188.75h1.5M454 188.75h1.5M456 188.75h13.5M470 188.75h23.5M495 188.75h1.5M497 188.75h4.5M502 188.75h1.5M505 188.75h1.5M509 188.75h3.5M515 188.75h1.5M519 188.75h1.5M522 188.75h1.5M525 188.75h1.5M530 188.75h1.5M535 188.75h2.5M72 189.75h1.5M78 189.75h2.5M83 189.75h1.5M85 189.75h1.5M88 189.75h1.5M92 189.75h3.5M97 189.75h1.5M99 189.75h2.5M103 189.75h3.5M107 189.75h2.5M112 189.75h3.5M116 189.75h2.5M119 189.75h5.5M125 189.75h4.5M130 189.75h15.5M146 189.75h3.5M150 189.75h4.5M155 189.75h2.5M158 189.75h1.5M162 189.75h3.5M166 189.75h1.5M168 189.75h2.5M172 189.75h1.5M174 189.75h1.5M179 189.75h1.5M188 189.75h1.5M441 189.75h1.5M447 189.75h1.5M449 189.75h5.5M456 189.75h3.5M460 189.75h2.5M463 189.75h15.5M479 189.75h9.5M489 189.75h3.5M493 189.75h2.5M500 189.75h1.5M503 189.75h1.5M505 189.75h1.5M507 189.75h1.5M510 189.75h2.5M515 189.75h1.5M517 189.75h2.5M522 189.75h3.5M535 189.75h1.5M64 190.75h2.5M77 190.75h1.5M82 190.75h1.5M85 190.75h2.5M90 190.75h1.5M93 190.75h2.5M98 190.75h7.5M108 190.75h3.5M112 190.75h5.5M118 190.75h19.5M138 190.75h3.5M142 190.75h9.5M152 190.75h4.5M162 190.75h2.5M167 190.75h1.5M172 190.75h1.5M177 190.75h1.5M185 190.75h1.5M443 190.75h1.5M445 190.75h2.5M448 190.75h1.5M452 190.75h9.5M462 190.75h4.5M467 190.75h3.5M471 190.75h2.5M474 190.75h9.5M484 190.75h11.5M501 190.75h1.5M505 190.75h1.5M514 190.75h1.5M519 190.75h2.5M522 190.75h1.5M525 190.75h1.5M529 190.75h2.5M536 190.75h1.5M60 191.75h1.5M67 191.75h1.5M84 191.75h4.5M89 191.75h1.5M92 191.75h4.5M97 191.75h5.5M103 191.75h1.5M107 191.75h1.5M109 191.75h3.5M113 191.75h1.5M115 191.75h3.5M119 191.75h5.5M125 191.75h6.5M132 191.75h7.5M140 191.75h8.5M149 191.75h1.5M152 191.75h3.5M156 191.75h2.5M159 191.75h3.5M167 191.75h1.5M175 191.75h1.5M177 191.75h3.5M181 191.75h1.5M439 191.75h1.5M443 191.75h2.5M448 191.75h2.5M451 191.75h5.5M457 191.75h2.5M460 191.75h24.5M485 191.75h3.5M489 191.75h1.5M491 191.75h4.5M498 191.75h2.5M501 191.75h1.5M506 191.75h2.5M509 191.75h1.5M511 191.75h3.5M518 191.75h1.5M523 191.75h2.5M526 191.75h1.5M529 191.75h1.5M537 191.75h1.5M66 192.75h3.5M76 192.75h1.5M80 192.75h1.5M86 192.75h1.5M89 192.75h2.5M93 192.75h5.5M99 192.75h1.5M103 192.75h1.5M106 192.75h2.5M109 192.75h2.5M112 192.75h3.5M116 192.75h13.5M130 192.75h10.5M141 192.75h5.5M147 192.75h2.5M150 192.75h5.5M157 192.75h1.5M161 192.75h2.5M164 192.75h1.5M168 192.75h1.5M183 192.75h1.5M445 192.75h4.5M451 192.75h1.5M453 192.75h4.5M458 192.75h7.5M466 192.75h13.5M480 192.75h14.5M495 192.75h1.5M497 192.75h1.5M501 192.75h2.5M504 192.75h1.5M508 192.75h2.5M512 192.75h1.5M519 192.75h2.5M523 192.75h2.5M528 192.75h1.5M543 192.75h1.5M70 193.75h1.5M77 193.75h1.5M83 193.75h2.5M87 193.75h2.5M91 193.75h4.5M96 193.75h12.5M109 193.75h23.5M133 193.75h14.5M151 193.75h2.5M155 193.75h2.5M159 193.75h3.5M163 193.75h1.5M170 193.75h2.5M176 193.75h2.5M181 193.75h1.5M185 193.75h1.5M442 193.75h2.5M445 193.75h1.5M447 193.75h7.5M456 193.75h5.5M462 193.75h8.5M471 193.75h15.5M487 193.75h7.5M495 193.75h7.5M503 193.75h1.5M505 193.75h1.5M507 193.75h2.5M514 193.75h1.5M525 193.75h1.5M527 193.75h1.5M532 193.75h2.5M63 194.75h1.5M65 194.75h1.5M75 194.75h2.5M81 194.75h2.5M84 194.75h5.5M90 194.75h9.5M100 194.75h1.5M102 194.75h1.5M107 194.75h7.5M115 194.75h3.5M119 194.75h19.5M139 194.75h11.5M151 194.75h3.5M156 194.75h2.5M160 194.75h2.5M169 194.75h1.5M171 194.75h2.5M175 194.75h1.5M177 194.75h1.5M439 194.75h1.5M445 194.75h3.5M450 194.75h5.5M456 194.75h4.5M461 194.75h6.5M468 194.75h22.5M491 194.75h2.5M495 194.75h1.5M498 194.75h2.5M501 194.75h1.5M503 194.75h1.5M507 194.75h1.5M510 194.75h1.5M513 194.75h2.5M517 194.75h1.5M527 194.75h1.5M530 194.75h1.5M70 195.75h2.5M79 195.75h1.5M81 195.75h2.5M85 195.75h1.5M88 195.75h2.5M91 195.75h40.5M133 195.75h12.5M146 195.75h2.5M149 195.75h2.5M152 195.75h2.5M155 195.75h1.5M159 195.75h2.5M175 195.75h1.5M177 195.75h1.5M180 195.75h3.5M184 195.75h1.5M440 195.75h1.5M445 195.75h5.5M452 195.75h36.5M489 195.75h5.5M495 195.75h6.5M502 195.75h1.5M504 195.75h1.5M507 195.75h2.5M516 195.75h1.5M518 195.75h1.5M521 195.75h1.5M523 195.75h1.5M63 196.75h1.5M70 196.75h1.5M74 196.75h1.5M78 196.75h2.5M82 196.75h4.5M87 196.75h1.5M89 196.75h14.5M104 196.75h6.5M111 196.75h29.5M141 196.75h7.5M150 196.75h2.5M153 196.75h1.5M155 196.75h1.5M157 196.75h4.5M170 196.75h1.5M437 196.75h1.5M439 196.75h1.5M442 196.75h1.5M445 196.75h33.5M479 196.75h11.5M491 196.75h7.5M499 196.75h1.5M501 196.75h3.5M509 196.75h1.5M516 196.75h1.5M519 196.75h2.5M525 196.75h2.5M532 196.75h1.5M71 197.75h1.5M74 197.75h2.5M82 197.75h1.5M84 197.75h4.5M89 197.75h62.5M152 197.75h5.5M165 197.75h1.5M174 197.75h2.5M177 197.75h1.5M179 197.75h1.5M182 197.75h1.5M184 197.75h1.5M188 197.75h1.5M439 197.75h1.5M441 197.75h1.5M445 197.75h8.5M454 197.75h2.5M457 197.75h9.5M468 197.75h3.5M472 197.75h15.5M488 197.75h6.5M495 197.75h2.5M500 197.75h1.5M503 197.75h2.5M513 197.75h2.5M516 197.75h2.5M519 197.75h1.5M522 197.75h1.5M67 198.75h1.5M72 198.75h1.5M77 198.75h1.5M81 198.75h1.5M83 198.75h1.5M86 198.75h1.5M88 198.75h1.5M90 198.75h12.5M103 198.75h2.5M106 198.75h21.5M128 198.75h3.5M132 198.75h15.5M148 198.75h1.5M150 198.75h2.5M156 198.75h1.5M159 198.75h1.5M161 198.75h2.5M164 198.75h3.5M175 198.75h1.5M177 198.75h3.5M185 198.75h1.5M436 198.75h1.5M440 198.75h2.5M443 198.75h1.5M445 198.75h35.5M481 198.75h4.5M486 198.75h5.5M492 198.75h3.5M497 198.75h1.5M501 198.75h3.5M509 198.75h2.5M513 198.75h1.5M519 198.75h2.5M522 198.75h2.5M527 198.75h1.5M532 198.75h1.5M534 198.75h1.5M64 199.75h1.5M75 199.75h1.5M77 199.75h1.5M82 199.75h4.5M87 199.75h3.5M91 199.75h15.5M107 199.75h34.5M142 199.75h3.5M146 199.75h9.5M156 199.75h1.5M161 199.75h1.5M163 199.75h2.5M167 199.75h1.5M169 199.75h1.5M173 199.75h1.5M176 199.75h1.5M184 199.75h3.5M434 199.75h1.5M437 199.75h2.5M442 199.75h1.5M444 199.75h1.5M446 199.75h25.5M472 199.75h3.5M476 199.75h18.5M496 199.75h1.5M498 199.75h2.5M506 199.75h1.5M509 199.75h1.5M516 199.75h1.5M518 199.75h1.5M521 199.75h1.5M525 199.75h4.5M531 199.75h2.5M71 200.75h1.5M75 200.75h1.5M78 200.75h4.5M83 200.75h1.5M85 200.75h2.5M88 200.75h24.5M113 200.75h8.5M122 200.75h5.5M128 200.75h19.5M148 200.75h4.5M154 200.75h1.5M156 200.75h1.5M158 200.75h1.5M160 200.75h1.5M163 200.75h2.5M167 200.75h1.5M173 200.75h1.5M177 200.75h1.5M179 200.75h1.5M181 200.75h1.5M433 200.75h1.5M436 200.75h1.5M439 200.75h3.5M443 200.75h3.5M447 200.75h3.5M451 200.75h12.5M464 200.75h7.5M472 200.75h18.5M491 200.75h4.5M496 200.75h1.5M498 200.75h2.5M502 200.75h4.5M509 200.75h2.5M516 200.75h1.5M518 200.75h1.5M521 200.75h2.5M527 200.75h1.5M529 200.75h1.5M68 201.75h2.5M71 201.75h1.5M76 201.75h1.5M81 201.75h1.5M84 201.75h40.5M125 201.75h29.5M155 201.75h2.5M158 201.75h1.5M161 201.75h2.5M164 201.75h1.5M176 201.75h1.5M178 201.75h1.5M440 201.75h9.5M450 201.75h25.5M476 201.75h8.5M485 201.75h9.5M498 201.75h2.5M501 201.75h4.5M508 201.75h1.5M510 201.75h2.5M513 201.75h1.5M533 201.75h1.5M64 202.75h1.5M67 202.75h1.5M71 202.75h1.5M77 202.75h2.5M82 202.75h6.5M89 202.75h6.5M96 202.75h10.5M107 202.75h31.5M139 202.75h11.5M154 202.75h4.5M163 202.75h2.5M169 202.75h1.5M171 202.75h1.5M177 202.75h1.5M180 202.75h1.5M182 202.75h1.5M187 202.75h1.5M432 202.75h1.5M437 202.75h1.5M441 202.75h12.5M454 202.75h13.5M468 202.75h24.5M494 202.75h3.5M498 202.75h4.5M503 202.75h1.5M511 202.75h1.5M516 202.75h3.5M521 202.75h3.5M527 202.75h1.5M534 202.75h1.5M70 203.75h3.5M76 203.75h1.5M81 203.75h1.5M85 203.75h7.5M93 203.75h7.5M101 203.75h5.5M107 203.75h5.5M113 203.75h22.5M136 203.75h5.5M142 203.75h15.5M158 203.75h1.5M161 203.75h1.5M163 203.75h2.5M166 203.75h1.5M169 203.75h2.5M172 203.75h1.5M174 203.75h1.5M176 203.75h1.5M178 203.75h1.5M180 203.75h1.5M431 203.75h1.5M435 203.75h1.5M439 203.75h1.5M441 203.75h16.5M460 203.75h5.5M467 203.75h7.5M475 203.75h11.5M487 203.75h1.5M489 203.75h3.5M493 203.75h4.5M499 203.75h4.5M505 203.75h1.5M507 203.75h1.5M511 203.75h1.5M513 203.75h1.5M517 203.75h1.5M521 203.75h1.5M533 203.75h1.5M538 203.75h1.5M58 204.75h1.5M65 204.75h3.5M72 204.75h1.5M74 204.75h2.5M77 204.75h2.5M81 204.75h1.5M84 204.75h1.5M86 204.75h2.5M89 204.75h6.5M96 204.75h2.5M99 204.75h17.5M117 204.75h38.5M156 204.75h1.5M160 204.75h1.5M162 204.75h2.5M166 204.75h1.5M170 204.75h1.5M172 204.75h1.5M429 204.75h1.5M432 204.75h1.5M437 204.75h1.5M441 204.75h27.5M469 204.75h26.5M496 204.75h5.5M503 204.75h2.5M508 204.75h1.5M511 204.75h1.5M513 204.75h2.5M516 204.75h1.5M518 204.75h1.5M520 204.75h7.5M53 205.75h1.5M65 205.75h1.5M68 205.75h1.5M71 205.75h2.5M75 205.75h1.5M78 205.75h2.5M81 205.75h1.5M85 205.75h3.5M89 205.75h38.5M128 205.75h2.5M131 205.75h12.5M144 205.75h5.5M150 205.75h3.5M154 205.75h1.5M159 205.75h5.5M166 205.75h1.5M169 205.75h1.5M172 205.75h2.5M181 205.75h1.5M183 205.75h1.5M426 205.75h1.5M429 205.75h1.5M434 205.75h1.5M437 205.75h1.5M439 205.75h2.5M442 205.75h50.5M494 205.75h2.5M498 205.75h2.5M502 205.75h1.5M505 205.75h1.5M507 205.75h1.5M509 205.75h1.5M511 205.75h1.5M513 205.75h1.5M516 205.75h1.5M519 205.75h1.5M521 205.75h1.5M523 205.75h2.5M528 205.75h1.5M537 205.75h1.5M59 206.75h1.5M64 206.75h1.5M69 206.75h1.5M73 206.75h1.5M75 206.75h1.5M78 206.75h4.5M84 206.75h1.5M86 206.75h5.5M92 206.75h50.5M143 206.75h4.5M149 206.75h2.5M153 206.75h1.5M155 206.75h2.5M158 206.75h1.5M167 206.75h1.5M173 206.75h1.5M178 206.75h1.5M182 206.75h1.5M430 206.75h1.5M432 206.75h1.5M434 206.75h1.5M436 206.75h1.5M439 206.75h7.5M447 206.75h46.5M494 206.75h1.5M497 206.75h4.5M509 206.75h1.5M514 206.75h3.5M518 206.75h2.5M522 206.75h2.5M66 207.75h2.5M70 207.75h1.5M73 207.75h2.5M77 207.75h1.5M81 207.75h1.5M83 207.75h1.5M85 207.75h21.5M107 207.75h2.5M110 207.75h1.5M112 207.75h3.5M116 207.75h7.5M124 207.75h5.5M130 207.75h6.5M137 207.75h11.5M150 207.75h8.5M160 207.75h3.5M165 207.75h1.5M167 207.75h1.5M172 207.75h1.5M174 207.75h3.5M179 207.75h1.5M182 207.75h1.5M428 207.75h1.5M435 207.75h1.5M438 207.75h1.5M440 207.75h13.5M454 207.75h11.5M466 207.75h20.5M487 207.75h10.5M499 207.75h1.5M505 207.75h1.5M508 207.75h2.5M513 207.75h1.5M515 207.75h2.5M523 207.75h1.5M531 207.75h1.5M64 208.75h2.5M69 208.75h1.5M75 208.75h1.5M77 208.75h2.5M81 208.75h34.5M116 208.75h9.5M126 208.75h14.5M141 208.75h1.5M143 208.75h6.5M151 208.75h5.5M157 208.75h1.5M163 208.75h1.5M167 208.75h1.5M171 208.75h2.5M432 208.75h1.5M438 208.75h1.5M441 208.75h6.5M448 208.75h2.5M451 208.75h18.5M470 208.75h9.5M480 208.75h2.5M483 208.75h14.5M498 208.75h1.5M508 208.75h1.5M510 208.75h1.5M512 208.75h1.5M529 208.75h1.5M531 208.75h1.5M58 209.75h2.5M61 209.75h1.5M68 209.75h1.5M71 209.75h1.5M75 209.75h3.5M79 209.75h2.5M83 209.75h49.5M133 209.75h14.5M148 209.75h8.5M157 209.75h1.5M159 209.75h1.5M163 209.75h1.5M169 209.75h1.5M179 209.75h1.5M425 209.75h1.5M427 209.75h1.5M431 209.75h3.5M436 209.75h12.5M449 209.75h24.5M474 209.75h4.5M479 209.75h1.5M481 209.75h11.5M495 209.75h1.5M497 209.75h1.5M499 209.75h1.5M503 209.75h3.5M508 209.75h1.5M513 209.75h1.5M516 209.75h1.5M519 209.75h1.5M521 209.75h1.5M524 209.75h1.5M528 209.75h1.5M58 210.75h1.5M60 210.75h1.5M65 210.75h1.5M68 210.75h3.5M73 210.75h1.5M77 210.75h2.5M82 210.75h32.5M115 210.75h11.5M128 210.75h15.5M144 210.75h7.5M152 210.75h7.5M160 210.75h1.5M170 210.75h2.5M173 210.75h3.5M184 210.75h1.5M435 210.75h7.5M443 210.75h4.5M448 210.75h2.5M451 210.75h19.5M471 210.75h23.5M496 210.75h3.5M500 210.75h2.5M504 210.75h1.5M512 210.75h1.5M515 210.75h1.5M517 210.75h1.5M522 210.75h1.5M528 210.75h1.5M55 211.75h1.5M59 211.75h1.5M61 211.75h1.5M75 211.75h3.5M79 211.75h1.5M81 211.75h5.5M87 211.75h9.5M97 211.75h28.5M126 211.75h1.5M128 211.75h5.5M134 211.75h5.5M140 211.75h6.5M147 211.75h1.5M149 211.75h1.5M154 211.75h1.5M158 211.75h1.5M161 211.75h2.5M166 211.75h2.5M169 211.75h2.5M176 211.75h1.5M178 211.75h1.5M427 211.75h1.5M429 211.75h2.5M434 211.75h1.5M436 211.75h2.5M440 211.75h4.5M445 211.75h10.5M456 211.75h5.5M462 211.75h27.5M490 211.75h1.5M493 211.75h1.5M497 211.75h1.5M500 211.75h1.5M503 211.75h1.5M509 211.75h1.5M512 211.75h3.5M516 211.75h1.5M521 211.75h2.5M528 211.75h1.5M62 212.75h1.5M64 212.75h1.5M67 212.75h1.5M69 212.75h2.5M72 212.75h3.5M77 212.75h4.5M82 212.75h11.5M94 212.75h9.5M104 212.75h25.5M130 212.75h12.5M143 212.75h8.5M152 212.75h3.5M156 212.75h2.5M159 212.75h1.5M164 212.75h1.5M168 212.75h1.5M170 212.75h1.5M177 212.75h1.5M184 212.75h1.5M431 212.75h1.5M433 212.75h1.5M436 212.75h46.5M483 212.75h6.5M490 212.75h6.5M497 212.75h1.5M499 212.75h2.5M502 212.75h4.5M508 212.75h1.5M511 212.75h2.5M519 212.75h1.5M522 212.75h2.5M52 213.75h1.5M59 213.75h1.5M62 213.75h1.5M65 213.75h5.5M71 213.75h1.5M78 213.75h1.5M80 213.75h40.5M121 213.75h21.5M143 213.75h4.5M148 213.75h3.5M153 213.75h1.5M158 213.75h3.5M166 213.75h2.5M170 213.75h2.5M176 213.75h1.5M178 213.75h1.5M180 213.75h1.5M423 213.75h1.5M425 213.75h1.5M429 213.75h2.5M434 213.75h1.5M437 213.75h3.5M441 213.75h19.5M461 213.75h9.5M471 213.75h5.5M477 213.75h17.5M495 213.75h1.5M498 213.75h2.5M506 213.75h1.5M510 213.75h2.5M517 213.75h1.5M519 213.75h1.5M523 213.75h2.5M60 214.75h1.5M62 214.75h1.5M64 214.75h1.5M66 214.75h1.5M69 214.75h2.5M72 214.75h2.5M75 214.75h3.5M79 214.75h2.5M82 214.75h4.5M87 214.75h3.5M91 214.75h6.5M98 214.75h9.5M108 214.75h20.5M129 214.75h2.5M132 214.75h6.5M139 214.75h4.5M147 214.75h2.5M150 214.75h7.5M158 214.75h1.5M161 214.75h1.5M166 214.75h1.5M171 214.75h1.5M179 214.75h1.5M417 214.75h1.5M420 214.75h1.5M426 214.75h1.5M435 214.75h10.5M446 214.75h1.5M448 214.75h14.5M463 214.75h26.5M490 214.75h1.5M492 214.75h1.5M494 214.75h4.5M504 214.75h5.5M510 214.75h1.5M514 214.75h1.5M518 214.75h1.5M521 214.75h1.5M523 214.75h2.5M58 215.75h1.5M64 215.75h3.5M75 215.75h4.5M81 215.75h23.5M105 215.75h23.5M129 215.75h2.5M132 215.75h5.5M138 215.75h5.5M144 215.75h3.5M148 215.75h5.5M155 215.75h1.5M160 215.75h1.5M162 215.75h1.5M168 215.75h1.5M170 215.75h1.5M179 215.75h1.5M422 215.75h1.5M426 215.75h1.5M430 215.75h2.5M434 215.75h3.5M438 215.75h7.5M446 215.75h23.5M470 215.75h1.5M472 215.75h12.5M485 215.75h4.5M490 215.75h5.5M496 215.75h1.5M499 215.75h3.5M504 215.75h1.5M506 215.75h1.5M514 215.75h1.5M516 215.75h3.5M524 215.75h1.5M62 216.75h1.5M67 216.75h1.5M69 216.75h1.5M75 216.75h1.5M77 216.75h26.5M104 216.75h1.5M106 216.75h3.5M110 216.75h13.5M124 216.75h1.5M126 216.75h3.5M130 216.75h1.5M132 216.75h3.5M136 216.75h1.5M139 216.75h3.5M143 216.75h2.5M146 216.75h2.5M151 216.75h2.5M154 216.75h1.5M156 216.75h3.5M169 216.75h2.5M173 216.75h1.5M175 216.75h1.5M180 216.75h1.5M428 216.75h1.5M432 216.75h1.5M434 216.75h3.5M438 216.75h2.5M441 216.75h24.5M466 216.75h14.5M481 216.75h16.5M498 216.75h1.5M505 216.75h1.5M510 216.75h4.5M515 216.75h1.5M517 216.75h1.5M521 216.75h2.5M64 217.75h1.5M70 217.75h1.5M73 217.75h1.5M79 217.75h1.5M82 217.75h2.5M85 217.75h15.5M101 217.75h10.5M112 217.75h21.5M134 217.75h6.5M141 217.75h2.5M144 217.75h3.5M148 217.75h3.5M152 217.75h1.5M154 217.75h1.5M156 217.75h2.5M164 217.75h1.5M174 217.75h1.5M183 217.75h1.5M429 217.75h1.5M432 217.75h13.5M446 217.75h27.5M474 217.75h13.5M488 217.75h1.5M494 217.75h1.5M496 217.75h1.5M498 217.75h1.5M507 217.75h1.5M512 217.75h4.5M517 217.75h1.5M58 218.75h2.5M64 218.75h1.5M66 218.75h2.5M70 218.75h1.5M76 218.75h2.5M79 218.75h2.5M82 218.75h2.5M86 218.75h4.5M91 218.75h1.5M93 218.75h30.5M124 218.75h3.5M128 218.75h3.5M134 218.75h3.5M138 218.75h4.5M143 218.75h4.5M150 218.75h3.5M154 218.75h1.5M163 218.75h1.5M166 218.75h1.5M168 218.75h1.5M170 218.75h1.5M421 218.75h1.5M423 218.75h2.5M426 218.75h4.5M433 218.75h7.5M441 218.75h1.5M443 218.75h1.5M445 218.75h5.5M451 218.75h20.5M472 218.75h7.5M480 218.75h2.5M483 218.75h3.5M487 218.75h3.5M491 218.75h6.5M498 218.75h2.5M502 218.75h1.5M504 218.75h1.5M506 218.75h2.5M509 218.75h1.5M511 218.75h1.5M513 218.75h1.5M516 218.75h1.5M523 218.75h1.5M58 219.75h1.5M61 219.75h4.5M68 219.75h1.5M71 219.75h1.5M73 219.75h1.5M75 219.75h1.5M77 219.75h5.5M83 219.75h31.5M115 219.75h6.5M124 219.75h1.5M126 219.75h11.5M138 219.75h1.5M140 219.75h2.5M144 219.75h1.5M146 219.75h1.5M149 219.75h2.5M154 219.75h1.5M156 219.75h1.5M159 219.75h1.5M162 219.75h2.5M165 219.75h1.5M174 219.75h1.5M425 219.75h4.5M430 219.75h2.5M433 219.75h35.5M469 219.75h1.5M471 219.75h11.5M483 219.75h11.5M495 219.75h2.5M499 219.75h1.5M503 219.75h1.5M506 219.75h1.5M509 219.75h1.5M511 219.75h1.5M517 219.75h1.5M522 219.75h1.5M63 220.75h1.5M67 220.75h1.5M76 220.75h2.5M79 220.75h1.5M81 220.75h1.5M83 220.75h36.5M121 220.75h2.5M124 220.75h5.5M130 220.75h1.5M132 220.75h2.5M135 220.75h2.5M139 220.75h1.5M141 220.75h1.5M143 220.75h4.5M148 220.75h2.5M152 220.75h2.5M156 220.75h1.5M158 220.75h1.5M164 220.75h1.5M167 220.75h1.5M174 220.75h1.5M432 220.75h9.5M443 220.75h27.5M471 220.75h20.5M492 220.75h3.5M498 220.75h4.5M504 220.75h1.5M506 220.75h1.5M508 220.75h1.5M521 220.75h1.5M59 221.75h2.5M63 221.75h3.5M68 221.75h1.5M70 221.75h1.5M72 221.75h4.5M77 221.75h2.5M80 221.75h34.5M115 221.75h2.5M119 221.75h1.5M121 221.75h1.5M124 221.75h6.5M131 221.75h3.5M136 221.75h1.5M138 221.75h1.5M142 221.75h1.5M147 221.75h1.5M150 221.75h1.5M153 221.75h1.5M156 221.75h5.5M162 221.75h1.5M166 221.75h2.5M419 221.75h1.5M422 221.75h2.5M426 221.75h1.5M428 221.75h1.5M430 221.75h2.5M433 221.75h4.5M438 221.75h10.5M449 221.75h20.5M470 221.75h3.5M474 221.75h2.5M477 221.75h12.5M490 221.75h3.5M494 221.75h1.5M498 221.75h1.5M504 221.75h1.5M507 221.75h1.5M509 221.75h1.5M516 221.75h1.5M519 221.75h1.5M50 222.75h1.5M62 222.75h2.5M65 222.75h1.5M67 222.75h2.5M71 222.75h2.5M74 222.75h2.5M79 222.75h11.5M91 222.75h18.5M110 222.75h4.5M115 222.75h2.5M118 222.75h5.5M125 222.75h3.5M129 222.75h1.5M132 222.75h1.5M134 222.75h11.5M149 222.75h2.5M159 222.75h1.5M164 222.75h1.5M418 222.75h1.5M426 222.75h1.5M430 222.75h1.5M432 222.75h14.5M447 222.75h10.5M458 222.75h4.5M463 222.75h9.5M473 222.75h1.5M475 222.75h9.5M485 222.75h6.5M493 222.75h1.5M495 222.75h2.5M499 222.75h1.5M506 222.75h2.5M510 222.75h2.5M521 222.75h1.5M523 222.75h1.5M51 223.75h1.5M56 223.75h1.5M60 223.75h1.5M72 223.75h2.5M78 223.75h2.5M81 223.75h4.5M86 223.75h4.5M91 223.75h8.5M100 223.75h4.5M105 223.75h15.5M125 223.75h4.5M132 223.75h2.5M135 223.75h1.5M137 223.75h2.5M140 223.75h1.5M145 223.75h3.5M149 223.75h2.5M152 223.75h2.5M158 223.75h4.5M167 223.75h1.5M418 223.75h1.5M424 223.75h1.5M427 223.75h2.5M430 223.75h2.5M433 223.75h2.5M436 223.75h1.5M438 223.75h2.5M441 223.75h45.5M487 223.75h2.5M490 223.75h5.5M496 223.75h5.5M503 223.75h2.5M508 223.75h1.5M510 223.75h1.5M517 223.75h1.5M519 223.75h2.5M67 224.75h1.5M69 224.75h1.5M71 224.75h1.5M73 224.75h2.5M78 224.75h4.5M83 224.75h2.5M86 224.75h15.5M102 224.75h13.5M116 224.75h2.5M119 224.75h5.5M125 224.75h5.5M134 224.75h3.5M139 224.75h3.5M143 224.75h2.5M146 224.75h4.5M152 224.75h1.5M154 224.75h1.5M419 224.75h1.5M422 224.75h1.5M424 224.75h1.5M427 224.75h2.5M432 224.75h12.5M445 224.75h11.5M457 224.75h34.5M492 224.75h2.5M496 224.75h3.5M500 224.75h1.5M502 224.75h2.5M511 224.75h1.5M516 224.75h1.5M63 225.75h1.5M67 225.75h1.5M73 225.75h1.5M76 225.75h1.5M79 225.75h1.5M81 225.75h29.5M111 225.75h1.5M113 225.75h2.5M116 225.75h5.5M125 225.75h2.5M128 225.75h2.5M131 225.75h1.5M139 225.75h1.5M142 225.75h2.5M148 225.75h2.5M153 225.75h2.5M174 225.75h1.5M418 225.75h4.5M424 225.75h1.5M427 225.75h3.5M432 225.75h2.5M435 225.75h14.5M450 225.75h25.5M476 225.75h12.5M489 225.75h5.5M495 225.75h9.5M505 225.75h1.5M510 225.75h1.5M65 226.75h1.5M68 226.75h1.5M74 226.75h4.5M79 226.75h1.5M81 226.75h5.5M87 226.75h1.5M89 226.75h9.5M99 226.75h11.5M112 226.75h1.5M115 226.75h1.5M118 226.75h2.5M122 226.75h1.5M124 226.75h1.5M127 226.75h1.5M129 226.75h3.5M134 226.75h1.5M136 226.75h9.5M149 226.75h1.5M152 226.75h1.5M154 226.75h1.5M156 226.75h1.5M161 226.75h1.5M417 226.75h1.5M425 226.75h1.5M427 226.75h3.5M431 226.75h4.5M436 226.75h34.5M471 226.75h21.5M493 226.75h4.5M498 226.75h2.5M504 226.75h1.5M506 226.75h1.5M512 226.75h1.5M521 226.75h1.5M58 227.75h1.5M62 227.75h1.5M64 227.75h1.5M74 227.75h2.5M78 227.75h2.5M83 227.75h9.5M93 227.75h19.5M114 227.75h1.5M118 227.75h2.5M121 227.75h1.5M124 227.75h1.5M126 227.75h1.5M128 227.75h1.5M130 227.75h1.5M135 227.75h5.5M142 227.75h2.5M146 227.75h1.5M150 227.75h1.5M424 227.75h1.5M427 227.75h25.5M453 227.75h27.5M481 227.75h9.5M491 227.75h4.5M496 227.75h5.5M502 227.75h2.5M505 227.75h1.5M508 227.75h1.5M53 228.75h2.5M62 228.75h4.5M67 228.75h1.5M70 228.75h1.5M75 228.75h6.5M82 228.75h2.5M85 228.75h28.5M114 228.75h2.5M117 228.75h1.5M121 228.75h3.5M125 228.75h6.5M132 228.75h1.5M134 228.75h7.5M144 228.75h1.5M146 228.75h4.5M151 228.75h1.5M154 228.75h2.5M416 228.75h1.5M424 228.75h6.5M432 228.75h2.5M435 228.75h34.5M470 228.75h16.5M487 228.75h5.5M494 228.75h1.5M496 228.75h1.5M498 228.75h1.5M500 228.75h3.5M506 228.75h1.5M508 228.75h2.5M512 228.75h1.5M516 228.75h1.5M60 229.75h1.5M67 229.75h1.5M70 229.75h1.5M76 229.75h1.5M78 229.75h2.5M81 229.75h6.5M88 229.75h3.5M92 229.75h18.5M111 229.75h4.5M117 229.75h3.5M121 229.75h1.5M128 229.75h2.5M131 229.75h2.5M137 229.75h4.5M142 229.75h4.5M147 229.75h2.5M156 229.75h2.5M416 229.75h1.5M421 229.75h4.5M426 229.75h1.5M428 229.75h11.5M440 229.75h29.5M470 229.75h20.5M491 229.75h2.5M494 229.75h1.5M496 229.75h4.5M502 229.75h2.5M506 229.75h1.5M513 229.75h1.5M517 229.75h1.5M67 230.75h2.5M72 230.75h1.5M78 230.75h1.5M80 230.75h2.5M84 230.75h20.5M105 230.75h6.5M114 230.75h1.5M118 230.75h3.5M122 230.75h1.5M124 230.75h1.5M129 230.75h1.5M131 230.75h2.5M134 230.75h2.5M137 230.75h4.5M142 230.75h1.5M147 230.75h1.5M153 230.75h1.5M155 230.75h1.5M423 230.75h4.5M428 230.75h55.5M484 230.75h3.5M488 230.75h3.5M493 230.75h1.5M496 230.75h4.5M501 230.75h3.5M514 230.75h1.5M57 231.75h1.5M66 231.75h2.5M71 231.75h2.5M74 231.75h2.5M78 231.75h4.5M83 231.75h3.5M87 231.75h2.5M90 231.75h12.5M103 231.75h5.5M109 231.75h4.5M117 231.75h2.5M121 231.75h6.5M129 231.75h3.5M134 231.75h1.5M136 231.75h2.5M146 231.75h1.5M148 231.75h2.5M151 231.75h1.5M153 231.75h1.5M166 231.75h1.5M420 231.75h2.5M423 231.75h6.5M432 231.75h5.5M438 231.75h46.5M485 231.75h1.5M487 231.75h1.5M489 231.75h6.5M496 231.75h5.5M502 231.75h2.5M505 231.75h3.5M511 231.75h1.5M58 232.75h2.5M67 232.75h1.5M72 232.75h2.5M77 232.75h1.5M79 232.75h1.5M82 232.75h3.5M86 232.75h7.5M94 232.75h3.5M98 232.75h5.5M104 232.75h4.5M109 232.75h6.5M116 232.75h3.5M120 232.75h2.5M123 232.75h3.5M127 232.75h1.5M129 232.75h3.5M133 232.75h3.5M137 232.75h1.5M140 232.75h1.5M144 232.75h1.5M146 232.75h2.5M153 232.75h1.5M155 232.75h1.5M159 232.75h1.5M413 232.75h1.5M415 232.75h2.5M419 232.75h1.5M421 232.75h1.5M423 232.75h5.5M429 232.75h12.5M442 232.75h16.5M459 232.75h11.5M472 232.75h12.5M485 232.75h10.5M496 232.75h2.5M499 232.75h1.5M501 232.75h1.5M503 232.75h1.5M505 232.75h1.5M508 232.75h1.5M511 232.75h2.5M60 233.75h1.5M74 233.75h1.5M77 233.75h1.5M80 233.75h1.5M82 233.75h3.5M87 233.75h3.5M92 233.75h1.5M94 233.75h1.5M96 233.75h13.5M111 233.75h5.5M118 233.75h2.5M121 233.75h2.5M126 233.75h1.5M128 233.75h5.5M134 233.75h4.5M139 233.75h3.5M143 233.75h1.5M145 233.75h1.5M153 233.75h3.5M424 233.75h2.5M427 233.75h3.5M431 233.75h30.5M462 233.75h11.5M474 233.75h4.5M479 233.75h15.5M495 233.75h3.5M499 233.75h3.5M503 233.75h2.5M507 233.75h2.5M61 234.75h1.5M66 234.75h1.5M68 234.75h2.5M71 234.75h1.5M74 234.75h3.5M82 234.75h4.5M87 234.75h5.5M93 234.75h3.5M98 234.75h6.5M113 234.75h1.5M115 234.75h7.5M123 234.75h4.5M130 234.75h1.5M132 234.75h3.5M136 234.75h1.5M142 234.75h1.5M152 234.75h1.5M414 234.75h1.5M417 234.75h1.5M419 234.75h3.5M423 234.75h1.5M425 234.75h2.5M428 234.75h17.5M446 234.75h36.5M483 234.75h4.5M488 234.75h5.5M494 234.75h2.5M498 234.75h6.5M506 234.75h3.5M511 234.75h1.5M515 234.75h1.5M60 235.75h1.5M64 235.75h4.5M69 235.75h2.5M74 235.75h1.5M77 235.75h2.5M80 235.75h1.5M85 235.75h1.5M87 235.75h1.5M91 235.75h3.5M95 235.75h1.5M97 235.75h1.5M99 235.75h1.5M101 235.75h2.5M104 235.75h3.5M110 235.75h2.5M118 235.75h3.5M122 235.75h1.5M126 235.75h2.5M130 235.75h3.5M138 235.75h1.5M140 235.75h4.5M412 235.75h1.5M416 235.75h1.5M420 235.75h4.5M425 235.75h3.5M429 235.75h1.5M431 235.75h18.5M450 235.75h3.5M454 235.75h16.5M471 235.75h8.5M480 235.75h11.5M494 235.75h2.5M498 235.75h3.5M502 235.75h2.5M505 235.75h5.5M59 236.75h1.5M64 236.75h2.5M73 236.75h2.5M76 236.75h2.5M80 236.75h2.5M88 236.75h4.5M93 236.75h1.5M95 236.75h4.5M100 236.75h1.5M102 236.75h4.5M107 236.75h1.5M109 236.75h1.5M111 236.75h1.5M114 236.75h4.5M119 236.75h3.5M123 236.75h3.5M127 236.75h1.5M129 236.75h1.5M131 236.75h1.5M133 236.75h3.5M137 236.75h1.5M141 236.75h1.5M148 236.75h1.5M417 236.75h4.5M422 236.75h1.5M424 236.75h1.5M429 236.75h23.5M453 236.75h9.5M463 236.75h16.5M480 236.75h2.5M483 236.75h8.5M492 236.75h4.5M498 236.75h2.5M502 236.75h1.5M504 236.75h6.5M516 236.75h1.5M50 237.75h1.5M62 237.75h1.5M66 237.75h1.5M69 237.75h1.5M71 237.75h1.5M73 237.75h1.5M76 237.75h3.5M80 237.75h3.5M84 237.75h5.5M91 237.75h2.5M94 237.75h3.5M98 237.75h3.5M102 237.75h3.5M106 237.75h5.5M112 237.75h3.5M116 237.75h1.5M118 237.75h6.5M126 237.75h1.5M128 237.75h1.5M130 237.75h1.5M132 237.75h1.5M135 237.75h2.5M138 237.75h1.5M140 237.75h1.5M417 237.75h1.5M419 237.75h1.5M421 237.75h1.5M424 237.75h13.5M438 237.75h11.5M450 237.75h4.5M455 237.75h22.5M478 237.75h13.5M493 237.75h3.5M497 237.75h2.5M501 237.75h3.5M505 237.75h4.5M60 238.75h1.5M68 238.75h2.5M71 238.75h1.5M75 238.75h1.5M78 238.75h1.5M81 238.75h1.5M84 238.75h2.5M87 238.75h2.5M90 238.75h2.5M93 238.75h1.5M96 238.75h2.5M99 238.75h1.5M101 238.75h2.5M106 238.75h3.5M111 238.75h1.5M113 238.75h1.5M115 238.75h2.5M118 238.75h1.5M120 238.75h4.5M128 238.75h1.5M130 238.75h3.5M138 238.75h1.5M143 238.75h1.5M146 238.75h1.5M418 238.75h1.5M422 238.75h4.5M427 238.75h1.5M429 238.75h1.5M431 238.75h2.5M435 238.75h28.5M464 238.75h3.5M468 238.75h20.5M489 238.75h1.5M492 238.75h5.5M498 238.75h4.5M504 238.75h4.5M509 238.75h2.5M58 239.75h1.5M61 239.75h1.5M68 239.75h1.5M74 239.75h1.5M79 239.75h7.5M89 239.75h3.5M94 239.75h4.5M102 239.75h5.5M108 239.75h1.5M110 239.75h1.5M112 239.75h2.5M116 239.75h1.5M120 239.75h1.5M126 239.75h3.5M130 239.75h1.5M132 239.75h3.5M138 239.75h1.5M142 239.75h1.5M416 239.75h1.5M421 239.75h4.5M426 239.75h1.5M428 239.75h23.5M452 239.75h6.5M459 239.75h16.5M476 239.75h6.5M483 239.75h3.5M488 239.75h9.5M498 239.75h1.5M500 239.75h2.5M504 239.75h5.5M52 240.75h2.5M58 240.75h1.5M69 240.75h2.5M73 240.75h1.5M78 240.75h3.5M83 240.75h2.5M86 240.75h4.5M91 240.75h4.5M100 240.75h1.5M102 240.75h3.5M106 240.75h3.5M110 240.75h1.5M113 240.75h4.5M119 240.75h1.5M121 240.75h3.5M127 240.75h5.5M142 240.75h2.5M145 240.75h2.5M409 240.75h1.5M416 240.75h1.5M418 240.75h2.5M422 240.75h4.5M428 240.75h2.5M432 240.75h5.5M438 240.75h7.5M446 240.75h6.5M453 240.75h22.5M476 240.75h5.5M482 240.75h2.5M486 240.75h3.5M491 240.75h2.5M494 240.75h3.5M499 240.75h3.5M504 240.75h4.5M509 240.75h2.5M58 241.75h1.5M70 241.75h4.5M75 241.75h1.5M77 241.75h1.5M79 241.75h2.5M82 241.75h1.5M85 241.75h1.5M90 241.75h1.5M93 241.75h2.5M100 241.75h1.5M102 241.75h2.5M105 241.75h2.5M109 241.75h4.5M116 241.75h1.5M119 241.75h2.5M125 241.75h1.5M130 241.75h3.5M135 241.75h2.5M418 241.75h2.5M422 241.75h1.5M428 241.75h1.5M430 241.75h2.5M434 241.75h7.5M443 241.75h23.5M467 241.75h5.5M473 241.75h3.5M477 241.75h10.5M488 241.75h1.5M490 241.75h5.5M499 241.75h1.5M501 241.75h3.5M505 241.75h6.5M59 242.75h2.5M64 242.75h1.5M66 242.75h1.5M68 242.75h1.5M72 242.75h3.5M78 242.75h3.5M85 242.75h2.5M90 242.75h2.5M93 242.75h2.5M97 242.75h3.5M102 242.75h1.5M104 242.75h1.5M106 242.75h1.5M108 242.75h1.5M110 242.75h1.5M113 242.75h1.5M117 242.75h3.5M123 242.75h1.5M125 242.75h1.5M127 242.75h1.5M131 242.75h1.5M133 242.75h1.5M137 242.75h1.5M416 242.75h1.5M419 242.75h2.5M422 242.75h1.5M424 242.75h6.5M431 242.75h6.5M438 242.75h7.5M446 242.75h9.5M456 242.75h1.5M458 242.75h4.5M463 242.75h16.5M480 242.75h1.5M482 242.75h1.5M488 242.75h1.5M490 242.75h2.5M493 242.75h3.5M498 242.75h2.5M502 242.75h1.5M504 242.75h4.5M509 242.75h2.5M60 243.75h1.5M63 243.75h1.5M65 243.75h2.5M68 243.75h2.5M71 243.75h2.5M74 243.75h2.5M77 243.75h1.5M79 243.75h4.5M84 243.75h1.5M87 243.75h1.5M93 243.75h3.5M97 243.75h3.5M101 243.75h1.5M103 243.75h1.5M111 243.75h1.5M123 243.75h2.5M126 243.75h1.5M129 243.75h1.5M135 243.75h2.5M417 243.75h2.5M420 243.75h4.5M429 243.75h1.5M431 243.75h2.5M435 243.75h7.5M443 243.75h7.5M451 243.75h12.5M464 243.75h2.5M467 243.75h7.5M477 243.75h9.5M490 243.75h2.5M493 243.75h2.5M496 243.75h2.5M499 243.75h2.5M503 243.75h3.5M509 243.75h1.5M59 244.75h1.5M63 244.75h1.5M66 244.75h1.5M72 244.75h2.5M76 244.75h1.5M79 244.75h3.5M84 244.75h1.5M90 244.75h2.5M93 244.75h2.5M100 244.75h1.5M102 244.75h2.5M105 244.75h1.5M109 244.75h3.5M113 244.75h3.5M118 244.75h1.5M126 244.75h1.5M128 244.75h1.5M132 244.75h1.5M136 244.75h1.5M423 244.75h1.5M427 244.75h2.5M430 244.75h1.5M432 244.75h5.5M438 244.75h12.5M451 244.75h2.5M454 244.75h19.5M474 244.75h2.5M477 244.75h1.5M479 244.75h3.5M486 244.75h2.5M490 244.75h2.5M493 244.75h8.5M504 244.75h2.5M510 244.75h1.5M516 244.75h1.5M58 245.75h1.5M62 245.75h2.5M68 245.75h2.5M73 245.75h2.5M78 245.75h2.5M84 245.75h1.5M92 245.75h3.5M96 245.75h2.5M99 245.75h1.5M106 245.75h1.5M110 245.75h1.5M116 245.75h1.5M122 245.75h2.5M132 245.75h1.5M136 245.75h1.5M138 245.75h1.5M416 245.75h3.5M420 245.75h1.5M424 245.75h1.5M427 245.75h1.5M429 245.75h6.5M436 245.75h2.5M440 245.75h2.5M443 245.75h9.5M453 245.75h7.5M461 245.75h7.5M469 245.75h5.5M475 245.75h4.5M481 245.75h1.5M486 245.75h1.5M489 245.75h1.5M493 245.75h11.5M506 245.75h5.5M54 246.75h1.5M67 246.75h1.5M70 246.75h1.5M72 246.75h1.5M74 246.75h1.5M77 246.75h1.5M79 246.75h2.5M84 246.75h1.5M86 246.75h3.5M93 246.75h3.5M98 246.75h1.5M100 246.75h1.5M107 246.75h1.5M111 246.75h1.5M113 246.75h1.5M115 246.75h2.5M123 246.75h1.5M125 246.75h2.5M132 246.75h2.5M135 246.75h1.5M139 246.75h1.5M143 246.75h1.5M414 246.75h1.5M416 246.75h1.5M418 246.75h1.5M422 246.75h1.5M429 246.75h2.5M432 246.75h2.5M435 246.75h4.5M440 246.75h2.5M443 246.75h5.5M449 246.75h1.5M451 246.75h3.5M455 246.75h13.5M469 246.75h4.5M475 246.75h1.5M477 246.75h1.5M480 246.75h3.5M489 246.75h3.5M493 246.75h1.5M495 246.75h1.5M497 246.75h1.5M500 246.75h7.5M508 246.75h1.5M61 247.75h1.5M69 247.75h2.5M74 247.75h1.5M76 247.75h1.5M79 247.75h1.5M81 247.75h2.5M84 247.75h2.5M91 247.75h3.5M104 247.75h1.5M110 247.75h2.5M113 247.75h1.5M116 247.75h1.5M120 247.75h1.5M416 247.75h1.5M418 247.75h1.5M421 247.75h2.5M424 247.75h2.5M427 247.75h3.5M431 247.75h7.5M439 247.75h2.5M442 247.75h2.5M446 247.75h8.5M455 247.75h2.5M458 247.75h3.5M462 247.75h2.5M465 247.75h4.5M470 247.75h1.5M472 247.75h6.5M480 247.75h1.5M482 247.75h1.5M484 247.75h1.5M486 247.75h4.5M492 247.75h3.5M496 247.75h3.5M500 247.75h1.5M502 247.75h4.5M507 247.75h1.5M509 247.75h2.5M53 248.75h1.5M58 248.75h1.5M60 248.75h1.5M63 248.75h1.5M69 248.75h1.5M72 248.75h6.5M79 248.75h1.5M81 248.75h1.5M83 248.75h1.5M86 248.75h5.5M92 248.75h1.5M96 248.75h1.5M99 248.75h1.5M101 248.75h2.5M105 248.75h3.5M110 248.75h2.5M116 248.75h1.5M119 248.75h2.5M132 248.75h1.5M137 248.75h1.5M417 248.75h1.5M419 248.75h1.5M422 248.75h1.5M424 248.75h1.5M426 248.75h1.5M433 248.75h1.5M435 248.75h3.5M440 248.75h1.5M443 248.75h6.5M451 248.75h2.5M455 248.75h4.5M460 248.75h1.5M462 248.75h3.5M466 248.75h2.5M469 248.75h1.5M472 248.75h3.5M477 248.75h1.5M480 248.75h1.5M482 248.75h4.5M488 248.75h7.5M496 248.75h9.5M506 248.75h2.5M510 248.75h2.5M60 249.75h2.5M65 249.75h1.5M67 249.75h2.5M70 249.75h1.5M72 249.75h2.5M76 249.75h1.5M78 249.75h7.5M87 249.75h2.5M90 249.75h1.5M92 249.75h4.5M99 249.75h2.5M102 249.75h1.5M111 249.75h1.5M114 249.75h3.5M119 249.75h1.5M124 249.75h1.5M129 249.75h1.5M417 249.75h1.5M419 249.75h1.5M430 249.75h2.5M436 249.75h1.5M438 249.75h3.5M442 249.75h1.5M444 249.75h3.5M448 249.75h2.5M451 249.75h1.5M453 249.75h5.5M460 249.75h2.5M463 249.75h2.5M466 249.75h4.5M471 249.75h2.5M474 249.75h2.5M481 249.75h1.5M485 249.75h4.5M491 249.75h5.5M497 249.75h3.5M501 249.75h3.5M52 250.75h1.5M59 250.75h2.5M63 250.75h1.5M65 250.75h1.5M67 250.75h2.5M72 250.75h1.5M75 250.75h1.5M78 250.75h3.5M82 250.75h1.5M85 250.75h1.5M87 250.75h1.5M89 250.75h1.5M94 250.75h1.5M98 250.75h1.5M111 250.75h1.5M116 250.75h1.5M125 250.75h1.5M132 250.75h1.5M416 250.75h1.5M418 250.75h1.5M420 250.75h2.5M424 250.75h1.5M426 250.75h1.5M428 250.75h1.5M436 250.75h3.5M441 250.75h6.5M448 250.75h1.5M457 250.75h4.5M462 250.75h1.5M468 250.75h1.5M470 250.75h2.5M473 250.75h1.5M475 250.75h2.5M478 250.75h1.5M487 250.75h1.5M489 250.75h4.5M495 250.75h2.5M498 250.75h4.5M504 250.75h1.5M510 250.75h1.5M66 251.75h1.5M69 251.75h3.5M73 251.75h4.5M78 251.75h1.5M85 251.75h2.5M88 251.75h1.5M90 251.75h1.5M96 251.75h1.5M98 251.75h1.5M103 251.75h1.5M107 251.75h1.5M110 251.75h2.5M113 251.75h1.5M117 251.75h1.5M119 251.75h1.5M124 251.75h1.5M128 251.75h1.5M132 251.75h2.5M136 251.75h1.5M417 251.75h2.5M424 251.75h1.5M430 251.75h1.5M434 251.75h2.5M438 251.75h1.5M441 251.75h2.5M447 251.75h1.5M449 251.75h1.5M455 251.75h1.5M458 251.75h1.5M460 251.75h1.5M463 251.75h1.5M465 251.75h1.5M468 251.75h1.5M470 251.75h3.5M475 251.75h1.5M477 251.75h1.5M485 251.75h1.5M487 251.75h1.5M489 251.75h5.5M495 251.75h8.5M504 251.75h1.5M507 251.75h1.5M61 252.75h1.5M67 252.75h2.5M75 252.75h1.5M78 252.75h2.5M81 252.75h1.5M83 252.75h1.5M88 252.75h1.5M92 252.75h1.5M95 252.75h1.5M99 252.75h1.5M102 252.75h1.5M106 252.75h1.5M113 252.75h1.5M117 252.75h1.5M119 252.75h1.5M129 252.75h1.5M417 252.75h1.5M419 252.75h1.5M424 252.75h1.5M428 252.75h2.5M432 252.75h1.5M436 252.75h2.5M440 252.75h2.5M445 252.75h1.5M447 252.75h1.5M453 252.75h1.5M458 252.75h1.5M463 252.75h1.5M467 252.75h1.5M472 252.75h1.5M478 252.75h1.5M481 252.75h3.5M485 252.75h1.5M487 252.75h2.5M490 252.75h7.5M498 252.75h2.5M501 252.75h5.5M509 252.75h1.5M59 253.75h1.5M61 253.75h2.5M70 253.75h1.5M72 253.75h1.5M76 253.75h2.5M87 253.75h1.5M89 253.75h1.5M100 253.75h2.5M107 253.75h1.5M110 253.75h1.5M115 253.75h1.5M120 253.75h2.5M127 253.75h1.5M418 253.75h1.5M420 253.75h1.5M434 253.75h1.5M446 253.75h1.5M448 253.75h2.5M453 253.75h1.5M456 253.75h2.5M459 253.75h1.5M469 253.75h1.5M471 253.75h2.5M476 253.75h1.5M481 253.75h1.5M484 253.75h1.5M489 253.75h1.5M492 253.75h2.5M495 253.75h1.5M497 253.75h5.5M503 253.75h4.5M59 254.75h1.5M63 254.75h1.5M75 254.75h1.5M77 254.75h1.5M101 254.75h2.5M104 254.75h3.5M108 254.75h1.5M110 254.75h1.5M115 254.75h5.5M416 254.75h1.5M418 254.75h1.5M420 254.75h3.5M424 254.75h1.5M428 254.75h1.5M433 254.75h1.5M439 254.75h2.5M442 254.75h2.5M447 254.75h1.5M451 254.75h3.5M457 254.75h3.5M461 254.75h2.5M464 254.75h1.5M467 254.75h1.5M472 254.75h1.5M474 254.75h1.5M477 254.75h1.5M479 254.75h1.5M483 254.75h2.5M487 254.75h1.5M490 254.75h1.5M493 254.75h4.5M498 254.75h4.5M511 254.75h1.5M68 255.75h1.5M75 255.75h1.5M78 255.75h1.5M86 255.75h2.5M110 255.75h2.5M113 255.75h1.5M116 255.75h1.5M118 255.75h1.5M120 255.75h1.5M122 255.75h1.5M408 255.75h1.5M417 255.75h1.5M419 255.75h1.5M421 255.75h3.5M425 255.75h1.5M441 255.75h1.5M443 255.75h4.5M455 255.75h1.5M458 255.75h1.5M461 255.75h1.5M463 255.75h2.5M467 255.75h1.5M469 255.75h1.5M472 255.75h1.5M474 255.75h1.5M477 255.75h1.5M479 255.75h2.5M489 255.75h1.5M492 255.75h4.5M498 255.75h4.5M503 255.75h2.5M506 255.75h1.5M70 256.75h1.5M72 256.75h1.5M76 256.75h1.5M80 256.75h1.5M84 256.75h2.5M99 256.75h1.5M101 256.75h1.5M104 256.75h1.5M107 256.75h1.5M117 256.75h1.5M126 256.75h1.5M129 256.75h1.5M131 256.75h1.5M419 256.75h1.5M422 256.75h2.5M426 256.75h1.5M428 256.75h1.5M431 256.75h1.5M433 256.75h1.5M435 256.75h2.5M438 256.75h3.5M455 256.75h1.5M462 256.75h1.5M465 256.75h2.5M469 256.75h2.5M474 256.75h1.5M476 256.75h1.5M488 256.75h1.5M492 256.75h1.5M496 256.75h1.5M500 256.75h1.5M502 256.75h2.5M66 257.75h2.5M78 257.75h1.5M80 257.75h1.5M91 257.75h1.5M95 257.75h1.5M99 257.75h1.5M104 257.75h1.5M109 257.75h1.5M113 257.75h1.5M133 257.75h1.5M420 257.75h2.5M424 257.75h2.5M431 257.75h1.5M436 257.75h1.5M440 257.75h2.5M443 257.75h1.5M446 257.75h1.5M448 257.75h1.5M450 257.75h2.5M454 257.75h3.5M459 257.75h1.5M463 257.75h1.5M470 257.75h1.5M475 257.75h1.5M479 257.75h1.5M485 257.75h1.5M487 257.75h2.5M490 257.75h1.5M494 257.75h6.5M501 257.75h3.5M506 257.75h2.5M512 257.75h1.5M59 258.75h1.5M68 258.75h1.5M73 258.75h1.5M90 258.75h1.5M99 258.75h1.5M104 258.75h1.5M119 258.75h3.5M123 258.75h1.5M126 258.75h2.5M133 258.75h1.5M421 258.75h3.5M427 258.75h1.5M434 258.75h1.5M437 258.75h1.5M441 258.75h1.5M448 258.75h1.5M453 258.75h1.5M455 258.75h1.5M457 258.75h2.5M461 258.75h1.5M463 258.75h1.5M467 258.75h1.5M472 258.75h1.5M475 258.75h4.5M480 258.75h1.5M484 258.75h1.5M491 258.75h1.5M493 258.75h1.5M495 258.75h2.5M498 258.75h1.5M501 258.75h1.5M506 258.75h1.5M60 259.75h1.5M72 259.75h2.5M81 259.75h1.5M86 259.75h1.5M93 259.75h1.5M96 259.75h1.5M99 259.75h1.5M101 259.75h1.5M103 259.75h1.5M129 259.75h1.5M416 259.75h2.5M419 259.75h1.5M425 259.75h1.5M427 259.75h1.5M429 259.75h2.5M432 259.75h1.5M440 259.75h1.5M447 259.75h1.5M454 259.75h1.5M464 259.75h1.5M467 259.75h2.5M472 259.75h1.5M476 259.75h1.5M479 259.75h2.5M482 259.75h2.5M488 259.75h2.5M498 259.75h1.5M504 259.75h1.5M417 260.75h1.5M419 260.75h3.5M425 260.75h1.5M427 260.75h1.5M429 260.75h2.5M432 260.75h1.5M435 260.75h2.5M439 260.75h2.5M447 260.75h1.5M454 260.75h1.5M460 260.75h1.5M469 260.75h1.5M472 260.75h1.5M474 260.75h1.5M481 260.75h1.5M487 260.75h1.5M490 260.75h1.5M493 260.75h1.5M497 260.75h1.5M503 260.75h1.5M53 261.75h1.5M74 261.75h1.5M87 261.75h1.5M417 261.75h1.5M419 261.75h1.5M421 261.75h1.5M427 261.75h1.5M433 261.75h1.5M438 261.75h1.5M445 261.75h1.5M449 261.75h3.5M453 261.75h1.5M458 261.75h1.5M461 261.75h1.5M465 261.75h2.5M470 261.75h2.5M473 261.75h1.5M475 261.75h1.5M479 261.75h1.5M486 261.75h1.5M490 261.75h1.5M495 261.75h1.5M108 262.75h2.5M420 262.75h1.5M422 262.75h2.5M427 262.75h1.5M434 262.75h1.5M442 262.75h1.5M446 262.75h1.5M448 262.75h2.5M454 262.75h4.5M461 262.75h1.5M464 262.75h2.5M473 262.75h2.5M484 262.75h1.5M487 262.75h1.5M490 262.75h2.5M502 262.75h1.5M100 263.75h2.5M408 263.75h1.5M415 263.75h1.5M422 263.75h1.5M425 263.75h1.5M427 263.75h2.5M431 263.75h1.5M437 263.75h2.5M441 263.75h1.5M443 263.75h1.5M446 263.75h1.5M450 263.75h1.5M453 263.75h1.5M455 263.75h1.5M457 263.75h1.5M459 263.75h1.5M463 263.75h3.5M467 263.75h1.5M471 263.75h2.5M483 263.75h1.5M485 263.75h2.5M488 263.75h1.5M496 263.75h1.5M501 263.75h1.5M70 264.75h1.5M409 264.75h2.5M418 264.75h1.5M421 264.75h1.5M423 264.75h1.5M425 264.75h1.5M429 264.75h1.5M438 264.75h1.5M456 264.75h3.5M461 264.75h1.5M468 264.75h2.5M473 264.75h1.5M478 264.75h1.5M484 264.75h1.5M486 264.75h2.5M489 264.75h1.5M495 264.75h2.5M61 265.75h1.5M75 265.75h1.5M104 265.75h2.5M417 265.75h1.5M469 265.75h1.5M491 265.75h1.5M88 266.75h1.5M421 266.75h2.5M449 266.75h1.5M477 266.75h1.5M81 267.75h1.5M84 267.75h1.5M93 267.75h1.5M427 267.75h2.5M414 268.75h2.5M429 268.75h2.5M440 268.75h1.5M460 268.75h2.5M479 268.75h1.5M458 269.75h1.5M460 269.75h1.5M463 269.75h1.5M409 270.75h1.5M425 270.75h2.5M446 270.75h1.5M460 271.75h1.5M418 272.75h2.5M432 273.75h2.5" stroke="#ed1c24" stroke-width="1.5" fill="none" filter="url(#bl)"/>
<path d="M49.5 3.5H324.5V261M47 261H324.5M56.8 3V265.5M157.8 3.5V261M57 167.8H324.5M408.7 10H681.6V265.2M407 265.2H681.6M415.6 9.5V270.5M522 10V265.2M415.6 168H681.6" stroke="#262626" stroke-width="1.7" fill="none"/>
<path d="M51 12.8H56.8M51 21.6H56.8M53.5 23.2H56.8M53.5 24.7H56.8M53.5 26.4H56.8M53.5 29.3H56.8M53.5 33.3H56.8M53.5 37.7H56.8M53.2 60.4H56.8M53.2 75.6H56.8M50.7 86.5H56.8M52 89.8H56.8M53 92.8H56.8M53 95.3H56.8M53 98.2H56.8M53.5 104.7H56.8M53.5 109.5H56.8M53.5 117H56.8M53.5 126.5H56.8M53.5 141.9H56.8M50.7 154.5H56.8M53 156.4H56.8M53 158.3H56.8M53 160.8H56.8M53 162.9H56.8M53.5 171.5H56.8M53.5 177.3H56.8M53.5 183.8H56.8M52 208.7H56.8M53 225H56.8M53 226.9H56.8M53 228.8H56.8M53.5 235H56.8M53.5 239.5H56.8M53.5 245H56.8M53.5 250.8H56.8M67.6 261V264.5M74 261V264.5M79.4 261V264.5M88.7 261V264.5M91 261V264.5M93.6 261V264.5M96.4 261V265.5M136.3 261V264.5M142.4 261V264.5M148.6 261V264.5M153 261V264.5M160.8 261V264.5M163 261V264.5M165.3 261V265.5M179.4 261V264.5M194.8 261V265M205.5 261V264.5M211.9 261V264.5M217.4 261V264.5M222.6 261V264.5M225.1 261V264.5M228 261V264.5M231 261V264.5M234.8 261V265.5M246.7 261V264.5M261.8 261V264.5M272.7 261V264.5M279 261V264.5M284.6 261V264.5M290.2 261V264.5M294.3 261V264.5M298.1 261V264.5M302.2 261V265.5M311 261V265.5M410 18.6H415.6M410 28.5H415.6M412 32.5H415.6M412 35.7H415.6M412 40.3H415.6M412.5 44.5H415.6M412 66.7H415.6M412 82.2H415.6M410 92.6H415.6M411 96H415.6M412 98.3H415.6M412 100.2H415.6M412.5 104.2H415.6M412.5 110.2H415.6M412.5 115.6H415.6M412.5 121.9H415.6M412.5 133H415.6M412.5 146.8H415.6M410 159.2H415.6M412 161.9H415.6M412 163.8H415.6M412 166.3H415.6M412.5 172.6H415.6M412.5 178.2H415.6M412.5 182.4H415.6M412.5 188.9H415.6M410 213.5H415.6M412.5 223.2H415.6M412 229.5H415.6M412 232H415.6M412 234.5H415.6M412.5 239.3H415.6M412.5 244.6H415.6M412.5 249H415.6M412.5 255.9H415.6M426.7 265.2V268.7M432.8 265.2V268.7M438.9 265.2V268.7M447.7 265.2V268.7M450.3 265.2V268.7M452.3 265.2V268.7M455.6 265.2V269.7M468.7 265.2V268.7M494.7 265.2V268.7M508.1 265.2V268.7M512 265.2V268.7M516.2 265.2V268.7M518.9 265.2V268.7M521.2 265.2V268.7M524.9 265.2V269.7M538.3 265.2V268.7M552.7 265.2V268.7M563.9 265.2V268.7M569.8 265.2V268.7M575.7 265.2V268.7M581 265.2V268.7M585.6 265.2V268.7M588.8 265.2V268.7M591.5 265.2V268.7M592.8 265.2V268.7M604.6 265.2V269.7M620 265.2V268.7M630.9 265.2V268.7M637.4 265.2V268.7M642.7 265.2V268.7M648 265.2V268.7M652.5 265.2V268.7M656.5 265.2V268.7M660.4 265.2V268.7M668.3 265.2V269.7" stroke="#262626" stroke-width="1.3" fill="none"/>
<text x="23.1" y="30.2" class="ax" textLength="17.4" lengthAdjust="spacingAndGlyphs">10</text>
<text x="38.4" y="13.6" class="ax" textLength="7.6" lengthAdjust="spacingAndGlyphs">5</text>
<text x="23.1" y="96.9" class="ax" textLength="17.4" lengthAdjust="spacingAndGlyphs">10</text>
<text x="38.0" y="80.7" class="ax" textLength="7.6" lengthAdjust="spacingAndGlyphs">4</text>
<text x="22.7" y="157.7" class="ax" textLength="17.4" lengthAdjust="spacingAndGlyphs">10</text>
<text x="37.9" y="142.3" class="ax" textLength="7.6" lengthAdjust="spacingAndGlyphs">3</text>
<text x="23.0" y="212" class="ax" textLength="17.4" lengthAdjust="spacingAndGlyphs">10</text>
<text x="38.0" y="195.4" class="ax" textLength="7.6" lengthAdjust="spacingAndGlyphs">2</text>
<text x="31.4" y="261.8" class="ax" textLength="7.6" lengthAdjust="spacingAndGlyphs">0</text>
<text x="84.6" y="293.1" class="ax" textLength="17.4" lengthAdjust="spacingAndGlyphs">10</text>
<text x="100.0" y="276.8" class="ax" textLength="7.6" lengthAdjust="spacingAndGlyphs">2</text>
<text x="149.0" y="293.1" class="ax" textLength="17.4" lengthAdjust="spacingAndGlyphs">10</text>
<text x="163.1" y="276.8" class="ax" textLength="7.6" lengthAdjust="spacingAndGlyphs">3</text>
<text x="226.1" y="293.1" class="ax" textLength="17.4" lengthAdjust="spacingAndGlyphs">10</text>
<text x="241.3" y="276.8" class="ax" textLength="7.6" lengthAdjust="spacingAndGlyphs">4</text>
<text x="293.0" y="293.1" class="ax" textLength="17.4" lengthAdjust="spacingAndGlyphs">10</text>
<text x="308.4" y="276.8" class="ax" textLength="7.6" lengthAdjust="spacingAndGlyphs">5</text>
<text x="55.4" y="293.1" class="ax" textLength="7.6" lengthAdjust="spacingAndGlyphs">0</text>
<text x="3.8" y="126.5" class="lab">PI</text>
<text x="141" y="309.2" class="lab">annexin-V FITC</text>
<text x="65.5" y="70" class="pc">8.81%</text>
<text x="265.3" y="76.6" class="pc">14.11%</text>
<text x="265.3" y="229" class="pc">1.79%</text>
<text x="382.9" y="36.4" class="ax" textLength="17.4" lengthAdjust="spacingAndGlyphs">10</text>
<text x="397.0" y="20.1" class="ax" textLength="7.6" lengthAdjust="spacingAndGlyphs">5</text>
<text x="382.3" y="101.8" class="ax" textLength="17.4" lengthAdjust="spacingAndGlyphs">10</text>
<text x="397.4" y="86.4" class="ax" textLength="7.6" lengthAdjust="spacingAndGlyphs">4</text>
<text x="382.3" y="163.4" class="ax" textLength="17.4" lengthAdjust="spacingAndGlyphs">10</text>
<text x="396.8" y="147.5" class="ax" textLength="7.6" lengthAdjust="spacingAndGlyphs">3</text>
<text x="382.4" y="217.1" class="ax" textLength="17.4" lengthAdjust="spacingAndGlyphs">10</text>
<text x="396.9" y="201.6" class="ax" textLength="7.6" lengthAdjust="spacingAndGlyphs">2</text>
<text x="390.1" y="266.9" class="ax" textLength="7.6" lengthAdjust="spacingAndGlyphs">0</text>
<text x="443.1" y="297.4" class="ax" textLength="17.4" lengthAdjust="spacingAndGlyphs">10</text>
<text x="459.3" y="281" class="ax" textLength="7.6" lengthAdjust="spacingAndGlyphs">2</text>
<text x="507.2" y="297.4" class="ax" textLength="17.4" lengthAdjust="spacingAndGlyphs">10</text>
<text x="521.7" y="281" class="ax" textLength="7.6" lengthAdjust="spacingAndGlyphs">3</text>
<text x="583.7" y="297.4" class="ax" textLength="17.4" lengthAdjust="spacingAndGlyphs">10</text>
<text x="598.1" y="281" class="ax" textLength="7.6" lengthAdjust="spacingAndGlyphs">4</text>
<text x="650.9" y="297.4" class="ax" textLength="17.4" lengthAdjust="spacingAndGlyphs">10</text>
<text x="665.7" y="281" class="ax" textLength="7.6" lengthAdjust="spacingAndGlyphs">5</text>
<text x="414.6" y="297.4" class="ax" textLength="7.6" lengthAdjust="spacingAndGlyphs">0</text>
<text x="363" y="132.3" class="lab">PI</text>
<text x="499.5" y="313.7" class="lab">annexin-V FITC</text>
<text x="427.8" y="79.5" class="pc2">1.15%</text>
<text x="632.3" y="91.2" class="pc2">0.17%</text>
<text x="632.3" y="235.8" class="pc2">0.63%</text>
<text x="154.6" y="349.9" class="big8">8</text>
<text x="425.2" y="355.3" class="bigc">Control Hela</text>
</svg>
</body></html>
